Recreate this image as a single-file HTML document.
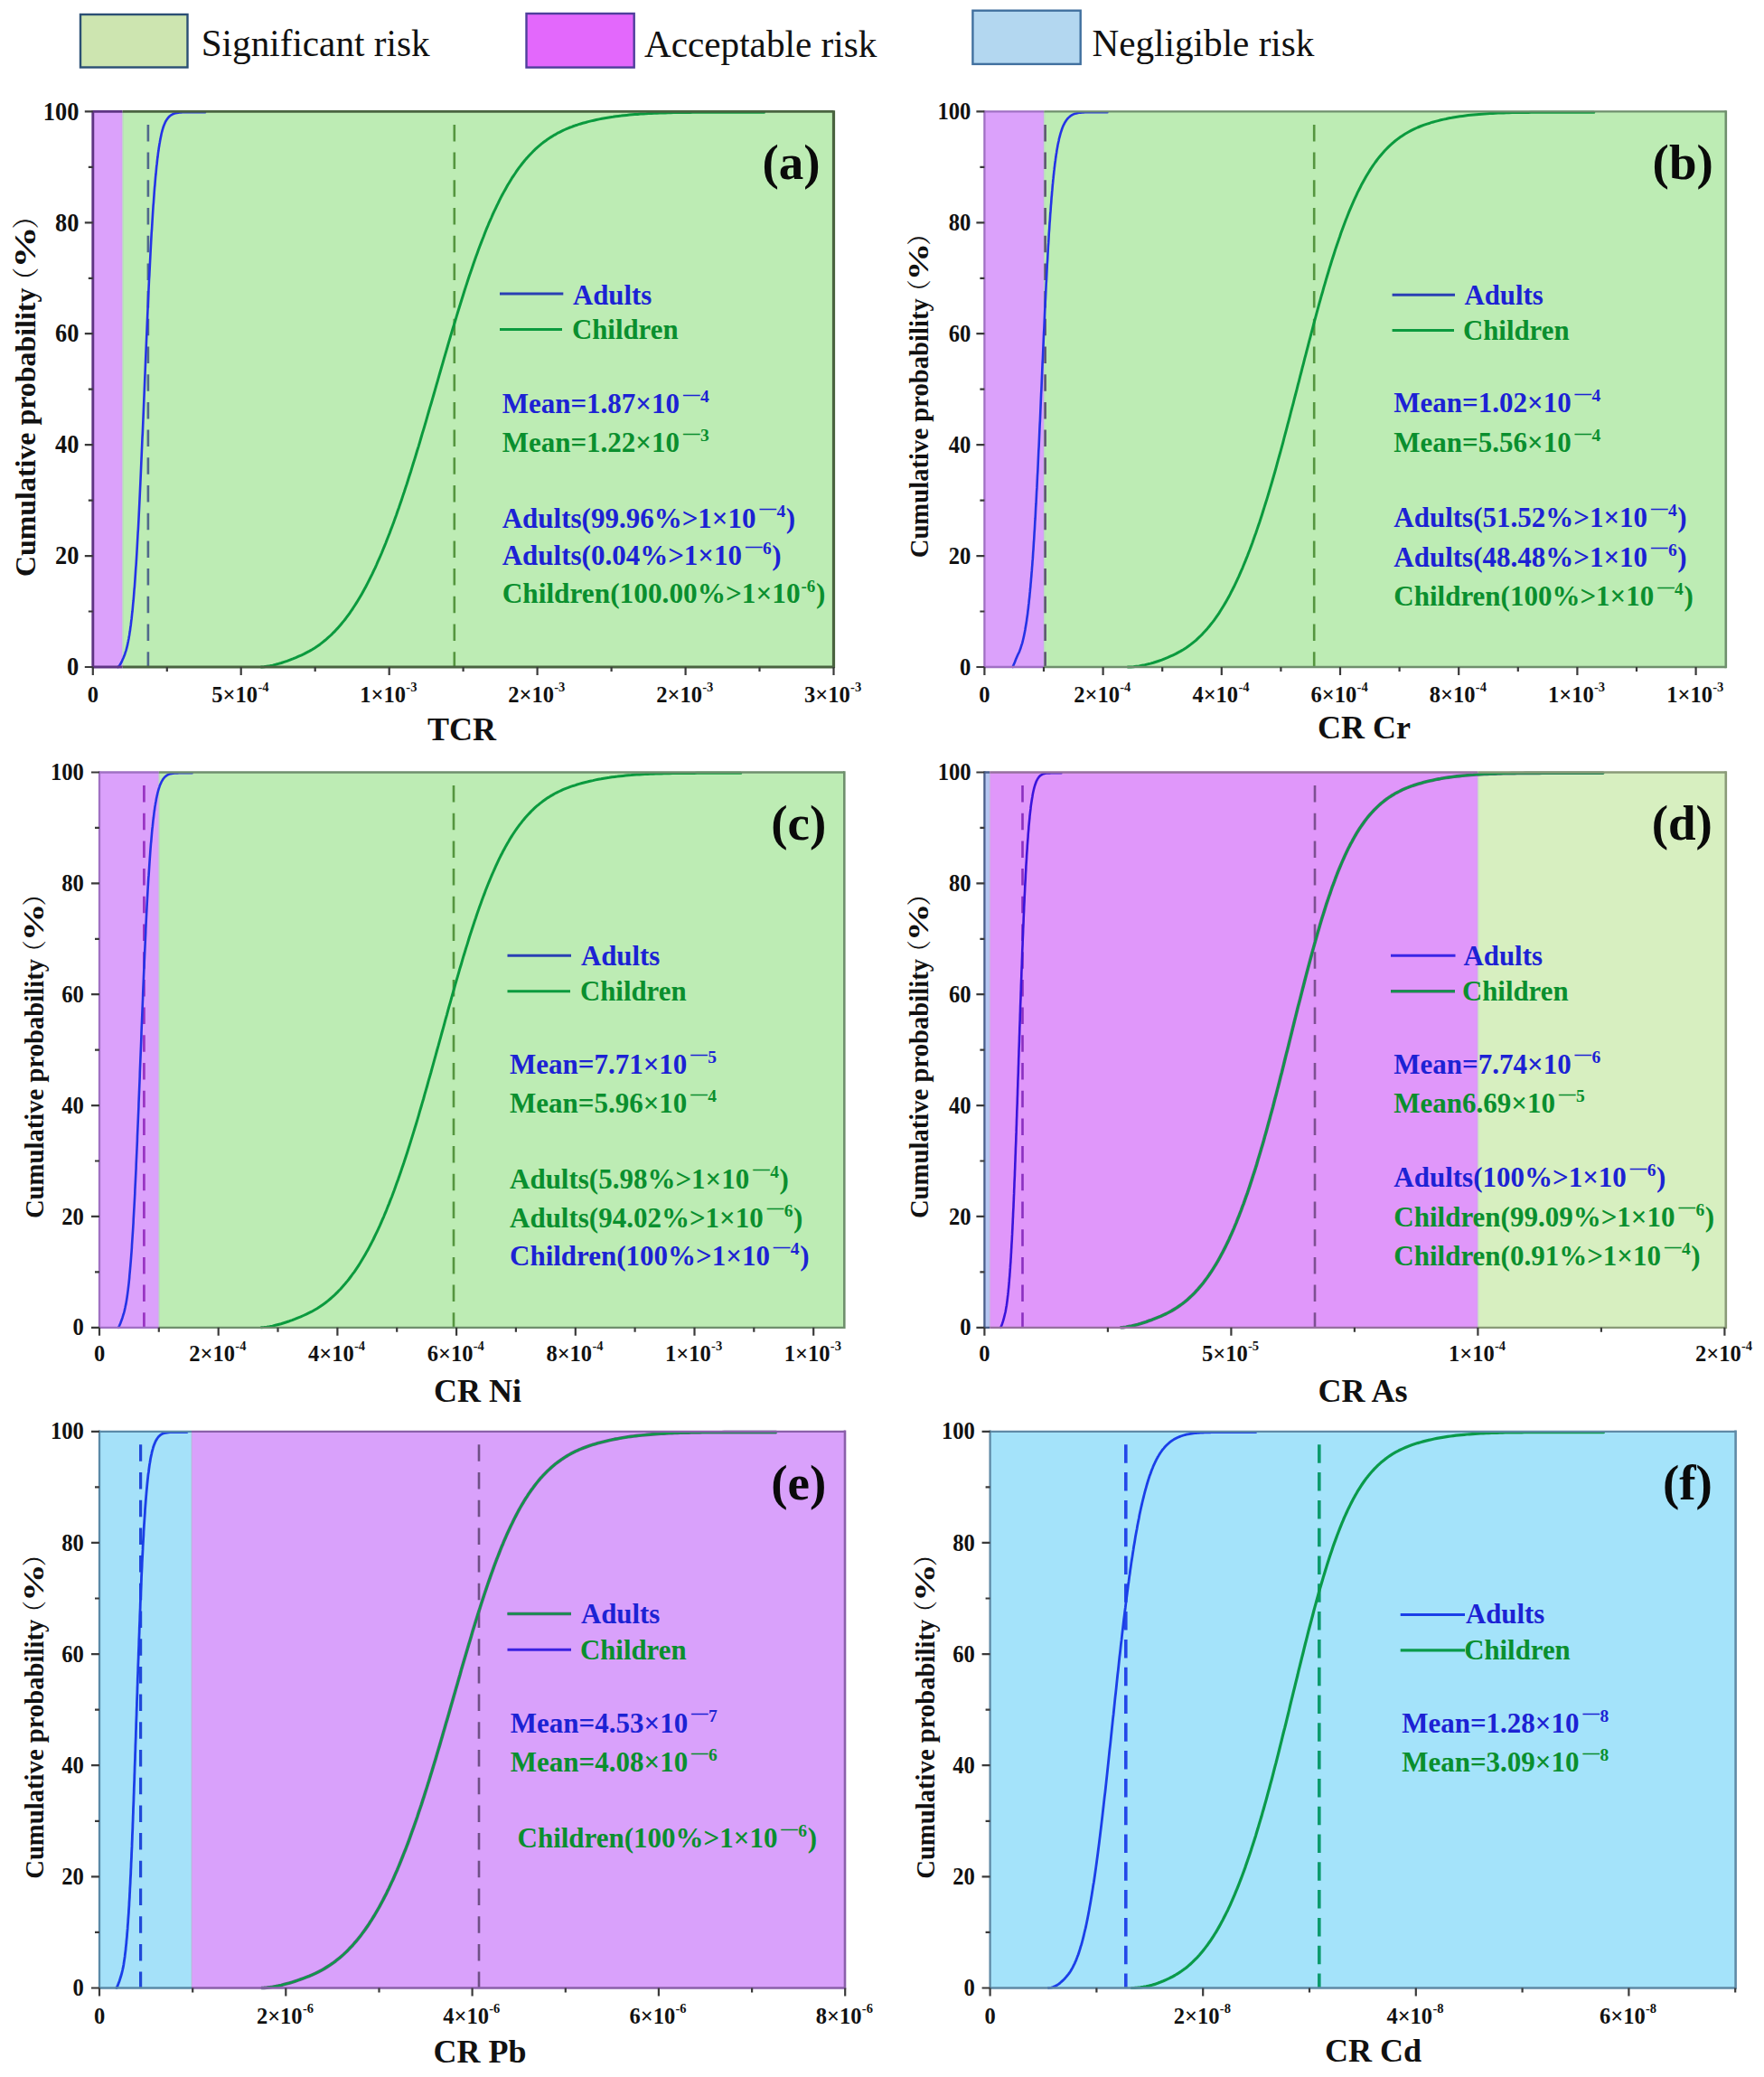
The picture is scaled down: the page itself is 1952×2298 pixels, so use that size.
<!DOCTYPE html>
<html lang="en">
<head>
<meta charset="utf-8">
<title>Cumulative probability of carcinogenic risk</title>
<style>
html,body{margin:0;padding:0;background:#fff;}
body{width:1952px;height:2298px;overflow:hidden;font-family:"Liberation Serif","Noto Serif CJK SC",serif;}
svg{display:block;}
svg text{white-space:pre;}
</style>
</head>
<body>
<svg xmlns="http://www.w3.org/2000/svg" width="1952" height="2298" viewBox="0 0 1952 2298" font-family="'Liberation Serif',serif" font-weight="bold">
<rect width="1952" height="2298" fill="#ffffff"/>
<rect x="89" y="16" width="118.5" height="58.5" fill="#cde5b0" stroke="#2b4f74" stroke-width="2.4"/>
<text x="222.7" y="62" font-size="41.2" font-weight="normal" fill="#111">Significant risk</text>
<rect x="582.5" y="15" width="119.2" height="59.6" fill="#e368fc" stroke="#4f3f9c" stroke-width="2.4"/>
<text x="713" y="62.9" font-size="41.2" font-weight="normal" fill="#111">Acceptable risk</text>
<rect x="1076.4" y="11.7" width="119.3" height="59.2" fill="#b3d7f0" stroke="#41709f" stroke-width="2.4"/>
<text x="1208.5" y="61.8" font-size="41.2" font-weight="normal" fill="#111">Negligible risk</text>
<g>
<rect x="102.8" y="123.4" width="32.8" height="614.6" fill="#dba1fb"/>
<rect x="135.6" y="123.4" width="786.9" height="614.6" fill="#bdecb4"/>
<rect x="134.6" y="123.4" width="2" height="614.6" fill="#b0b8c8" opacity="0.35"/>
<line x1="163.9" y1="137.9" x2="163.9" y2="738" stroke="#50688c" stroke-width="2.6" stroke-dasharray="18.5 12.2"/>
<line x1="502.8" y1="137.9" x2="502.8" y2="738" stroke="#55963f" stroke-width="2.6" stroke-dasharray="18.5 12.2"/>
<path d="M130.5,738 132,736.6 133.5,734.3 135,731.3 136.5,727.9 138.1,724 138.5,722.7 139,721.2 139.5,719.6 140,717.8 140.5,715.9 141,713.9 141.4,711.8 141.9,709.5 142.1,708.3 142.4,707 142.6,705.7 142.8,704.4 143.1,703 143.3,701.6 143.5,700.1 143.8,698.6 144,697 144.2,695.4 144.4,693.7 144.7,692 144.9,690.2 145.1,688.4 145.3,686.6 145.6,684.7 145.8,682.7 146,680.7 146.2,678.6 146.5,676.5 146.7,674.3 146.9,672 147.1,669.7 147.3,667.4 147.6,665 147.8,662.5 148,660 148.2,657.4 148.4,654.7 148.6,652 148.9,649.3 149.1,646.4 149.3,643.6 149.5,640.6 149.7,637.6 149.9,634.6 150.1,631.4 150.3,628.3 150.6,625 150.8,621.7 151,618.4 151.2,615 151.4,611.5 151.6,608 151.8,604.4 152,600.7 152.2,597 152.4,593.3 152.6,589.5 152.9,585.6 153.1,581.7 153.3,577.7 153.5,573.7 153.7,569.7 153.9,565.5 154.1,561.4 154.3,557.2 154.5,552.9 154.7,548.6 154.9,544.3 155.1,539.9 155.3,535.5 155.5,531 155.7,526.5 155.9,522 156.1,517.4 156.3,512.8 156.5,508.1 156.7,503.5 156.9,498.8 157.1,494.1 157.3,489.3 157.5,484.5 157.8,479.7 158,474.9 158.2,470.1 158.4,465.3 158.6,460.4 158.8,455.5 159,450.7 159.2,445.8 159.4,440.9 159.6,436 159.8,431.1 160,426.2 160.2,421.3 160.4,416.4 160.6,411.5 160.8,406.7 161,401.8 161.2,396.9 161.4,392.1 161.6,387.3 161.8,382.5 162,377.7 162.2,372.9 162.4,368.1 162.6,363.4 162.8,358.7 163,354.1 163.2,349.4 163.4,344.8 163.6,340.2 163.8,335.7 164,331.2 164.2,326.7 164.4,322.3 164.6,317.9 164.8,313.6 165,309.3 165.3,305 165.5,300.8 165.7,296.7 165.9,292.5 166.1,288.5 166.3,284.5 166.5,280.5 166.7,276.6 166.9,272.7 167.1,268.9 167.3,265.2 167.5,261.5 167.7,257.8 168,254.2 168.2,250.7 168.4,247.2 168.6,243.8 168.8,240.5 169,237.2 169.2,233.9 169.4,230.8 169.6,227.6 169.9,224.6 170.1,221.6 170.3,218.6 170.5,215.8 170.7,212.9 170.9,210.2 171.1,207.5 171.4,204.8 171.6,202.2 171.8,199.7 172,197.2 172.2,194.8 172.5,192.5 172.7,190.2 172.9,187.9 173.1,185.7 173.3,183.6 173.6,181.5 173.8,179.5 174,177.5 174.2,175.6 174.5,173.8 174.7,172 174.9,170.2 175.1,168.5 175.4,166.8 175.6,165.2 175.8,163.6 176.1,162.1 176.3,160.6 176.5,159.2 176.8,157.8 177,156.5 177.2,155.2 177.5,153.9 177.7,152.7 178.2,150.4 178.6,148.3 179.1,146.3 179.6,144.4 180.1,142.6 180.6,141 181.1,139.5 181.6,138.2 183.1,134.7 184.7,132.1 186.3,130 187.8,128.5 189.4,127.3 191,126.4 192.5,125.7 194.1,125.3 195.7,124.9 197.2,124.7 198.8,124.5 200.4,124.4 201.9,124.3 203.5,124.3 205.1,124.2 206.6,124.2 208.2,124.2 209.8,124.2 211.3,124.2 212.9,124.2 214.5,124.2 216,124.2 217.6,124.2 219.2,124.2 220.7,124.2 222.3,124.2 223.9,124.2 225.4,124.2 227,124.2" fill="none" stroke="#2433e6" stroke-width="2.6" stroke-linejoin="round" stroke-linecap="round"/>
<path d="M289,738 292.2,737.8 295.4,737.3 298.6,736.8 301.8,736.1 305,735.3 308.1,734.4 311.3,733.5 314.5,732.4 317.7,731.3 320.9,730.1 324.1,728.9 327.3,727.6 330.5,726.2 333.7,724.8 336.7,723.4 339.5,721.9 342.4,720.4 345.3,718.7 348.2,716.9 351.1,715 354.1,712.9 357,710.6 359.9,708.3 362.9,705.7 365.9,703 367.4,701.6 368.8,700.1 370.3,698.6 371.8,697 373.3,695.4 374.8,693.7 376.3,692 377.8,690.2 379.3,688.4 380.8,686.6 382.3,684.7 383.8,682.7 385.3,680.7 386.8,678.6 388.2,676.5 389.7,674.3 391.2,672 392.7,669.7 394.2,667.4 395.7,665 397.2,662.5 398.7,660 400.2,657.4 401.7,654.7 403.2,652 404.7,649.3 406.2,646.4 407.6,643.6 409.1,640.6 410.6,637.6 412.1,634.6 413.6,631.4 415.1,628.3 416.6,625 418,621.7 419.5,618.4 421,615 422.5,611.5 423.9,608 425.4,604.4 426.9,600.7 428.3,597 429.8,593.3 431.3,589.5 432.7,585.6 434.2,581.7 435.7,577.7 437.1,573.7 438.6,569.7 440,565.5 441.5,561.4 442.9,557.2 444.4,552.9 445.8,548.6 447.3,544.3 448.7,539.9 450.2,535.5 451.6,531 453,526.5 454.5,522 455.9,517.4 457.3,512.8 458.8,508.1 460.2,503.5 461.6,498.8 463.1,494.1 464.5,489.3 465.9,484.5 467.3,479.7 468.8,474.9 470.2,470.1 471.6,465.3 473,460.4 474.4,455.5 475.8,450.7 477.3,445.8 478.7,440.9 480.1,436 481.5,431.1 482.9,426.2 484.3,421.3 485.7,416.4 487.1,411.5 488.5,406.7 489.9,401.8 491.3,396.9 492.7,392.1 494.1,387.3 495.5,382.5 496.9,377.7 498.3,372.9 499.7,368.1 501.1,363.4 502.6,358.7 504,354.1 505.4,349.4 506.8,344.8 508.2,340.2 509.6,335.7 511,331.2 512.4,326.7 513.8,322.3 515.2,317.9 516.6,313.6 518,309.3 519.4,305 520.9,300.8 522.3,296.7 523.7,292.5 525.1,288.5 526.5,284.5 528,280.5 529.4,276.6 530.8,272.7 532.3,268.9 533.7,265.2 535.2,261.5 536.6,257.8 538,254.2 539.5,250.7 540.9,247.2 542.4,243.8 543.9,240.5 545.3,237.2 546.8,233.9 548.3,230.8 549.8,227.6 551.3,224.6 552.7,221.6 554.2,218.6 555.7,215.8 557.3,212.9 558.8,210.2 560.3,207.5 561.8,204.8 563.4,202.2 564.9,199.7 566.4,197.2 568,194.8 569.6,192.5 571.1,190.2 572.7,187.9 574.3,185.7 575.9,183.6 577.5,181.5 579.1,179.5 580.7,177.5 582.3,175.6 584,173.8 585.6,172 587.3,170.2 589,168.5 590.6,166.8 592.3,165.2 594,163.6 595.7,162.1 597.5,160.6 599.2,159.2 600.9,157.8 602.7,156.5 604.5,155.2 606.2,153.9 608,152.7 609.8,151.6 611.7,150.4 613.5,149.3 615.4,148.3 617.2,147.2 619.1,146.3 621,145.3 622.9,144.4 624.8,143.5 626.8,142.6 628.7,141.8 630.7,141 632.7,140.3 634.7,139.5 636.7,138.8 638.8,138.2 641.8,137.2 644.8,136.3 647.9,135.5 650.9,134.6 654,133.9 657,133.2 660,132.5 663.1,131.9 666.1,131.3 669.2,130.7 672.2,130.2 675.2,129.7 678.3,129.3 681.3,128.8 684.4,128.4 687.4,128.1 690.4,127.7 693.5,127.4 696.5,127.1 699.6,126.8 702.6,126.6 705.6,126.4 708.7,126.1 711.7,125.9 714.8,125.8 717.8,125.6 720.8,125.4 723.9,125.3 726.9,125.2 730,125.1 733,125 736.1,124.9 739.1,124.8 742.1,124.7 745.2,124.6 748.2,124.6 751.3,124.5 754.3,124.5 757.3,124.4 760.4,124.4 763.4,124.4 766.5,124.3 769.5,124.3 772.5,124.3 775.6,124.3 778.6,124.3 781.7,124.3 784.7,124.2 787.7,124.2 790.8,124.2 793.8,124.2 796.9,124.2 799.9,124.2 802.9,124.2 806,124.2 809,124.2 812.1,124.2 815.1,124.2 818.1,124.2 821.2,124.2 824.2,124.2 827.3,124.2 830.3,124.2 833.3,124.2 836.4,124.2 839.4,124.2 842.5,124.2 845.5,124.2" fill="none" stroke="#0b9a3e" stroke-width="3" stroke-linejoin="round" stroke-linecap="round"/>
<path d="M102.8,123.4 H135.6 M102.8,738 H135.6" stroke="#5f3484" stroke-width="2.9" fill="none"/>
<path d="M135.6,123.4 H922.5 M135.6,738 H922.5" stroke="#4a6340" stroke-width="2.9" fill="none"/>
<line x1="102.8" y1="122.2" x2="102.8" y2="739.2" stroke="#5f3484" stroke-width="2.9"/>
<line x1="922.5" y1="122.2" x2="922.5" y2="739.2" stroke="#4a6340" stroke-width="3.1999999999999997"/>
<path d="M102.8,738 h-9 M102.8,676.5 h-5 M102.8,615.1 h-9 M102.8,553.6 h-5 M102.8,492.2 h-9 M102.8,430.7 h-5 M102.8,369.2 h-9 M102.8,307.8 h-5 M102.8,246.3 h-9 M102.8,184.9 h-5 M102.8,123.4 h-9 M102.8,738 v9 M266.7,738 v9 M430.7,738 v9 M594.6,738 v9 M758.6,738 v9 M922.5,738 v9 M184.8,738 v5 M348.7,738 v5 M512.6,738 v5 M676.6,738 v5 M840.5,738 v5" stroke="#3a3a3a" stroke-width="2.2" fill="none"/>
<text x="87.3" y="747.2" font-size="29.4" text-anchor="end" fill="#111" textLength="13.2" lengthAdjust="spacingAndGlyphs">0</text>
<text x="87.3" y="624.3" font-size="29.4" text-anchor="end" fill="#111" textLength="26.3" lengthAdjust="spacingAndGlyphs">20</text>
<text x="87.3" y="501.4" font-size="29.4" text-anchor="end" fill="#111" textLength="26.3" lengthAdjust="spacingAndGlyphs">40</text>
<text x="87.3" y="378.4" font-size="29.4" text-anchor="end" fill="#111" textLength="26.3" lengthAdjust="spacingAndGlyphs">60</text>
<text x="87.3" y="255.5" font-size="29.4" text-anchor="end" fill="#111" textLength="26.3" lengthAdjust="spacingAndGlyphs">80</text>
<text x="87.3" y="132.6" font-size="29.4" text-anchor="end" fill="#111" textLength="39.5" lengthAdjust="spacingAndGlyphs">100</text>
<text x="102.8" y="777" font-size="24.5" text-anchor="middle" fill="#111">0</text>
<text x="234.3" y="777" font-size="24.5" fill="#111">5×10</text>
<text x="285.4" y="765" font-size="14.5" fill="#111">-4</text>
<text x="398.3" y="777" font-size="24.5" fill="#111">1×10</text>
<text x="449.3" y="765" font-size="14.5" fill="#111">-3</text>
<text x="562.2" y="777" font-size="24.5" fill="#111">2×10</text>
<text x="613.2" y="765" font-size="14.5" fill="#111">-3</text>
<text x="726.2" y="777" font-size="24.5" fill="#111">2×10</text>
<text x="777.2" y="765" font-size="14.5" fill="#111">-3</text>
<text x="890.1" y="777" font-size="24.5" fill="#111">3×10</text>
<text x="941.1" y="765" font-size="14.5" fill="#111">-3</text>
<text x="511" y="818.5" font-size="36" text-anchor="middle" fill="#111">TCR</text>
<g transform="translate(38.8,638) rotate(-90) scale(1.112)" fill="#111">
<text x="0" y="0" font-size="28.7">Cumulative probability</text>
<text x="308" y="0" text-anchor="end" font-family="'Noto Serif CJK SC','Liberation Serif',serif" font-weight="normal" font-size="27">（</text>
<text x="306.8" y="0" font-size="31" textLength="42" lengthAdjust="spacingAndGlyphs">%</text>
<text x="345.5" y="0" font-family="'Noto Serif CJK SC','Liberation Serif',serif" font-weight="normal" font-size="27">）</text>
</g>
<text x="843.5" y="198.4" font-size="55" fill="#0a0a0a">(a)</text>
<line x1="553" y1="325" x2="623.3" y2="325" stroke="#2a3fb4" stroke-width="3"/>
<line x1="553" y1="364.5" x2="622" y2="364.5" stroke="#0b9a3e" stroke-width="3"/>
<text x="634" y="336.7" font-size="30.8" fill="#1c22d4">Adults</text>
<text x="633" y="375.2" font-size="30.8" fill="#0a8f2e">Children</text>
<text x="555.7" y="457.4" font-size="31" fill="#1c22d4">Mean=1.87×10</text>
<text x="753.7" y="443.9" font-size="19.5" fill="#1c22d4" textLength="23" lengthAdjust="spacingAndGlyphs">−</text>
<text x="774.9" y="445.4" font-size="19.5" fill="#1c22d4">4</text>
<text x="555.7" y="500" font-size="31" fill="#0a8f2e">Mean=1.22×10</text>
<text x="753.7" y="486.5" font-size="19.5" fill="#0a8f2e" textLength="23" lengthAdjust="spacingAndGlyphs">−</text>
<text x="774.9" y="488" font-size="19.5" fill="#0a8f2e">3</text>
<text x="555.7" y="583.6" font-size="31" fill="#1c22d4">Adults(99.96%&gt;1×10</text>
<text x="838.2" y="570.1" font-size="19.5" fill="#1c22d4" textLength="23" lengthAdjust="spacingAndGlyphs">−</text>
<text x="859.4" y="571.6" font-size="19.5" fill="#1c22d4">4</text>
<text x="869.7" y="583.6" font-size="31" fill="#1c22d4">)</text>
<text x="555.7" y="625" font-size="31" fill="#1c22d4">Adults(0.04%&gt;1×10</text>
<text x="822.7" y="611.5" font-size="19.5" fill="#1c22d4" textLength="23" lengthAdjust="spacingAndGlyphs">−</text>
<text x="843.9" y="613" font-size="19.5" fill="#1c22d4">6</text>
<text x="854.2" y="625" font-size="31" fill="#1c22d4">)</text>
<text x="555.7" y="667" font-size="31" fill="#0a8f2e" textLength="330" lengthAdjust="spacingAndGlyphs">Children(100.00%&gt;1×10</text>
<text x="886.5" y="654.5" font-size="19" fill="#0a8f2e">-6</text>
<text x="903.1" y="667" font-size="31" fill="#0a8f2e">)</text>
</g>
<g>
<rect x="1089.4" y="123.4" width="65.9" height="614.6" fill="#dba1fb"/>
<rect x="1155.3" y="123.4" width="754.5" height="614.6" fill="#bdecb4"/>
<rect x="1154.3" y="123.4" width="2" height="614.6" fill="#b0b8c8" opacity="0.35"/>
<line x1="1156.6" y1="137.9" x2="1156.6" y2="738" stroke="#5d5570" stroke-width="2.6" stroke-dasharray="18.5 12.2"/>
<line x1="1454.2" y1="137.9" x2="1454.2" y2="738" stroke="#55963f" stroke-width="2.6" stroke-dasharray="18.5 12.2"/>
<path d="M1120.6,738 1121.8,735.2 1123,732.4 1124.1,729.6 1125.3,726.8 1126.5,724 1127.2,722.7 1127.9,721.2 1128.5,719.6 1129.2,717.8 1129.8,715.9 1130.4,713.9 1131.1,711.8 1131.7,709.5 1132,708.3 1132.3,707 1132.6,705.7 1132.9,704.4 1133.2,703 1133.5,701.6 1133.8,700.1 1134.1,698.6 1134.4,697 1134.6,695.4 1134.9,693.7 1135.2,692 1135.5,690.2 1135.8,688.4 1136.1,686.6 1136.3,684.7 1136.6,682.7 1136.9,680.7 1137.2,678.6 1137.4,676.5 1137.7,674.3 1138,672 1138.2,669.7 1138.5,667.4 1138.7,665 1139,662.5 1139.3,660 1139.5,657.4 1139.8,654.7 1140,652 1140.3,649.3 1140.5,646.4 1140.8,643.6 1141,640.6 1141.3,637.6 1141.5,634.6 1141.8,631.4 1142,628.3 1142.3,625 1142.5,621.7 1142.8,618.4 1143,615 1143.2,611.5 1143.5,608 1143.7,604.4 1143.9,600.7 1144.2,597 1144.4,593.3 1144.6,589.5 1144.9,585.6 1145.1,581.7 1145.3,577.7 1145.6,573.7 1145.8,569.7 1146,565.5 1146.2,561.4 1146.5,557.2 1146.7,552.9 1146.9,548.6 1147.1,544.3 1147.4,539.9 1147.6,535.5 1147.8,531 1148,526.5 1148.3,522 1148.5,517.4 1148.7,512.8 1148.9,508.1 1149.1,503.5 1149.3,498.8 1149.6,494.1 1149.8,489.3 1150,484.5 1150.2,479.7 1150.4,474.9 1150.6,470.1 1150.9,465.3 1151.1,460.4 1151.3,455.5 1151.5,450.7 1151.7,445.8 1151.9,440.9 1152.1,436 1152.4,431.1 1152.6,426.2 1152.8,421.3 1153,416.4 1153.2,411.5 1153.4,406.7 1153.6,401.8 1153.9,396.9 1154.1,392.1 1154.3,387.3 1154.5,382.5 1154.7,377.7 1154.9,372.9 1155.1,368.1 1155.4,363.4 1155.6,358.7 1155.8,354.1 1156,349.4 1156.2,344.8 1156.4,340.2 1156.6,335.7 1156.9,331.2 1157.1,326.7 1157.3,322.3 1157.5,317.9 1157.7,313.6 1158,309.3 1158.2,305 1158.4,300.8 1158.6,296.7 1158.8,292.5 1159.1,288.5 1159.3,284.5 1159.5,280.5 1159.7,276.6 1159.9,272.7 1160.2,268.9 1160.4,265.2 1160.6,261.5 1160.8,257.8 1161.1,254.2 1161.3,250.7 1161.5,247.2 1161.8,243.8 1162,240.5 1162.2,237.2 1162.5,233.9 1162.7,230.8 1162.9,227.6 1163.2,224.6 1163.4,221.6 1163.6,218.6 1163.9,215.8 1164.1,212.9 1164.4,210.2 1164.6,207.5 1164.8,204.8 1165.1,202.2 1165.3,199.7 1165.6,197.2 1165.8,194.8 1166.1,192.5 1166.3,190.2 1166.6,187.9 1166.8,185.7 1167.1,183.6 1167.3,181.5 1167.6,179.5 1167.9,177.5 1168.1,175.6 1168.4,173.8 1168.6,172 1168.9,170.2 1169.2,168.5 1169.4,166.8 1169.7,165.2 1170,163.6 1170.3,162.1 1170.5,160.6 1170.8,159.2 1171.1,157.8 1171.4,156.5 1171.7,155.2 1171.9,153.9 1172.2,152.7 1172.5,151.6 1173.1,149.3 1173.7,147.2 1174.3,145.3 1174.9,143.5 1175.5,141.8 1176.1,140.3 1176.7,138.8 1178.6,135.2 1180.2,132.8 1181.7,130.9 1183.3,129.4 1184.9,128.1 1186.4,127.2 1188,126.4 1189.5,125.8 1191.1,125.4 1192.7,125 1194.2,124.8 1195.8,124.6 1197.3,124.5 1198.9,124.4 1200.5,124.3 1202,124.3 1203.6,124.2 1205.1,124.2 1206.7,124.2 1208.2,124.2 1209.8,124.2 1211.4,124.2 1212.9,124.2 1214.5,124.2 1216,124.2 1217.6,124.2 1219.2,124.2 1220.7,124.2 1222.3,124.2 1223.8,124.2 1225.4,124.2" fill="none" stroke="#2433e6" stroke-width="2.6" stroke-linejoin="round" stroke-linecap="round"/>
<path d="M1248,738 1251.1,737.9 1254.3,737.7 1257.4,737.3 1260.5,736.9 1263.7,736.3 1266.8,735.7 1269.9,734.9 1273.1,734.1 1276.2,733.2 1279.3,732.2 1282.4,731.2 1285.6,730.1 1288.7,728.8 1291.8,727.6 1295,726.2 1298.1,724.8 1301.1,723.4 1303.8,721.9 1306.6,720.4 1309.4,718.7 1312.2,716.9 1315,715 1317.8,712.9 1320.7,710.6 1323.5,708.3 1326.3,705.7 1329.1,703 1330.5,701.6 1331.9,700.1 1333.3,698.6 1334.7,697 1336.1,695.4 1337.5,693.7 1338.9,692 1340.3,690.2 1341.8,688.4 1343.2,686.6 1344.6,684.7 1346,682.7 1347.4,680.7 1348.8,678.6 1350.1,676.5 1351.5,674.3 1352.9,672 1354.3,669.7 1355.7,667.4 1357.1,665 1358.5,662.5 1359.9,660 1361.3,657.4 1362.6,654.7 1364,652 1365.4,649.3 1366.8,646.4 1368.1,643.6 1369.5,640.6 1370.9,637.6 1372.2,634.6 1373.6,631.4 1375,628.3 1376.3,625 1377.7,621.7 1379,618.4 1380.4,615 1381.7,611.5 1383.1,608 1384.4,604.4 1385.8,600.7 1387.1,597 1388.4,593.3 1389.8,589.5 1391.1,585.6 1392.4,581.7 1393.8,577.7 1395.1,573.7 1396.4,569.7 1397.7,565.5 1399,561.4 1400.3,557.2 1401.7,552.9 1403,548.6 1404.3,544.3 1405.6,539.9 1406.9,535.5 1408.2,531 1409.5,526.5 1410.8,522 1412.1,517.4 1413.3,512.8 1414.6,508.1 1415.9,503.5 1417.2,498.8 1418.5,494.1 1419.8,489.3 1421,484.5 1422.3,479.7 1423.6,474.9 1424.8,470.1 1426.1,465.3 1427.4,460.4 1428.6,455.5 1429.9,450.7 1431.2,445.8 1432.4,440.9 1433.7,436 1435,431.1 1436.2,426.2 1437.5,421.3 1438.7,416.4 1440,411.5 1441.2,406.7 1442.5,401.8 1443.7,396.9 1445,392.1 1446.2,387.3 1447.5,382.5 1448.7,377.7 1450,372.9 1451.2,368.1 1452.5,363.4 1453.7,358.7 1454.9,354.1 1456.2,349.4 1457.4,344.8 1458.7,340.2 1459.9,335.7 1461.2,331.2 1462.4,326.7 1463.7,322.3 1464.9,317.9 1466.2,313.6 1467.4,309.3 1468.7,305 1470,300.8 1471.2,296.7 1472.5,292.5 1473.7,288.5 1475,284.5 1476.3,280.5 1477.5,276.6 1478.8,272.7 1480.1,268.9 1481.4,265.2 1482.7,261.5 1483.9,257.8 1485.2,254.2 1486.5,250.7 1487.8,247.2 1489.1,243.8 1490.4,240.5 1491.7,237.2 1493,233.9 1494.3,230.8 1495.7,227.6 1497,224.6 1498.3,221.6 1499.7,218.6 1501,215.8 1502.3,212.9 1503.7,210.2 1505.1,207.5 1506.4,204.8 1507.8,202.2 1509.2,199.7 1510.6,197.2 1512,194.8 1513.4,192.5 1514.8,190.2 1516.2,187.9 1517.6,185.7 1519,183.6 1520.5,181.5 1521.9,179.5 1523.4,177.5 1524.8,175.6 1526.3,173.8 1527.8,172 1529.3,170.2 1530.8,168.5 1532.3,166.8 1533.8,165.2 1535.4,163.6 1536.9,162.1 1538.5,160.6 1540.1,159.2 1541.6,157.8 1543.2,156.5 1544.8,155.2 1546.5,153.9 1548.1,152.7 1549.7,151.6 1551.4,150.4 1554.7,148.3 1558.2,146.3 1561.6,144.4 1565.2,142.6 1568.8,141 1572.4,139.5 1576.1,138.2 1579.2,137.1 1582.2,136.2 1585.2,135.2 1588.3,134.4 1591.3,133.6 1594.3,132.8 1597.3,132.1 1600.4,131.5 1603.4,130.8 1606.4,130.3 1609.4,129.7 1612.5,129.2 1615.5,128.8 1618.5,128.4 1621.5,128 1624.6,127.6 1627.6,127.3 1630.6,127 1633.7,126.7 1636.7,126.4 1639.7,126.2 1642.7,126 1645.8,125.8 1648.8,125.6 1651.8,125.4 1654.8,125.3 1657.9,125.1 1660.9,125 1663.9,124.9 1666.9,124.8 1670,124.7 1673,124.6 1676,124.6 1679.1,124.5 1682.1,124.5 1685.1,124.4 1688.1,124.4 1691.2,124.4 1694.2,124.3 1697.2,124.3 1700.2,124.3 1703.3,124.3 1706.3,124.3 1709.3,124.2 1712.3,124.2 1715.4,124.2 1718.4,124.2 1721.4,124.2 1724.5,124.2 1727.5,124.2 1730.5,124.2 1733.5,124.2 1736.6,124.2 1739.6,124.2 1742.6,124.2 1745.6,124.2 1748.7,124.2 1751.7,124.2 1754.7,124.2 1757.7,124.2 1760.8,124.2 1763.8,124.2" fill="none" stroke="#0b9a3e" stroke-width="3" stroke-linejoin="round" stroke-linecap="round"/>
<path d="M1089.4,123.4 H1155.3 M1089.4,738 H1155.3" stroke="#a070c4" stroke-width="2.3" fill="none"/>
<path d="M1155.3,123.4 H1909.8 M1155.3,738 H1909.8" stroke="#6f8f6d" stroke-width="2.3" fill="none"/>
<line x1="1089.4" y1="122.2" x2="1089.4" y2="739.2" stroke="#a070c4" stroke-width="2.3"/>
<line x1="1909.8" y1="122.2" x2="1909.8" y2="739.2" stroke="#6f8f6d" stroke-width="2.5999999999999996"/>
<path d="M1089.4,738 h-9 M1089.4,676.5 h-5 M1089.4,615.1 h-9 M1089.4,553.6 h-5 M1089.4,492.2 h-9 M1089.4,430.7 h-5 M1089.4,369.2 h-9 M1089.4,307.8 h-5 M1089.4,246.3 h-9 M1089.4,184.9 h-5 M1089.4,123.4 h-9 M1089.4,738 v9 M1220.6,738 v9 M1351.8,738 v9 M1483,738 v9 M1614.2,738 v9 M1745.4,738 v9 M1876.6,738 v9 M1155,738 v5 M1286.2,738 v5 M1417.4,738 v5 M1548.6,738 v5 M1679.8,738 v5 M1811,738 v5" stroke="#3a3a3a" stroke-width="2.2" fill="none"/>
<text x="1074.3" y="746.6" font-size="27.5" text-anchor="end" fill="#111" textLength="12.3" lengthAdjust="spacingAndGlyphs">0</text>
<text x="1074.3" y="623.7" font-size="27.5" text-anchor="end" fill="#111" textLength="24.6" lengthAdjust="spacingAndGlyphs">20</text>
<text x="1074.3" y="500.8" font-size="27.5" text-anchor="end" fill="#111" textLength="24.6" lengthAdjust="spacingAndGlyphs">40</text>
<text x="1074.3" y="377.8" font-size="27.5" text-anchor="end" fill="#111" textLength="24.6" lengthAdjust="spacingAndGlyphs">60</text>
<text x="1074.3" y="254.9" font-size="27.5" text-anchor="end" fill="#111" textLength="24.6" lengthAdjust="spacingAndGlyphs">80</text>
<text x="1074.3" y="132" font-size="27.5" text-anchor="end" fill="#111" textLength="36.9" lengthAdjust="spacingAndGlyphs">100</text>
<text x="1089.4" y="777" font-size="24.5" text-anchor="middle" fill="#111">0</text>
<text x="1188.2" y="777" font-size="24.5" fill="#111">2×10</text>
<text x="1239.2" y="765" font-size="14.5" fill="#111">-4</text>
<text x="1319.4" y="777" font-size="24.5" fill="#111">4×10</text>
<text x="1370.4" y="765" font-size="14.5" fill="#111">-4</text>
<text x="1450.6" y="777" font-size="24.5" fill="#111">6×10</text>
<text x="1501.6" y="765" font-size="14.5" fill="#111">-4</text>
<text x="1581.8" y="777" font-size="24.5" fill="#111">8×10</text>
<text x="1632.8" y="765" font-size="14.5" fill="#111">-4</text>
<text x="1713" y="777" font-size="24.5" fill="#111">1×10</text>
<text x="1764" y="765" font-size="14.5" fill="#111">-3</text>
<text x="1844.2" y="777" font-size="24.5" fill="#111">1×10</text>
<text x="1895.2" y="765" font-size="14.5" fill="#111">-3</text>
<text x="1509.4" y="816.5" font-size="36" text-anchor="middle" fill="#111">CR Cr</text>
<g transform="translate(1027.4,617.3) rotate(-90) scale(1.0)" fill="#111">
<text x="0" y="0" font-size="28.7">Cumulative probability</text>
<text x="308" y="0" text-anchor="end" font-family="'Noto Serif CJK SC','Liberation Serif',serif" font-weight="normal" font-size="27">（</text>
<text x="306.8" y="0" font-size="31" textLength="42" lengthAdjust="spacingAndGlyphs">%</text>
<text x="345.5" y="0" font-family="'Noto Serif CJK SC','Liberation Serif',serif" font-weight="normal" font-size="27">）</text>
</g>
<text x="1828.6" y="198" font-size="55" fill="#0a0a0a">(b)</text>
<line x1="1540.6" y1="326.2" x2="1610" y2="326.2" stroke="#2a3fb4" stroke-width="3"/>
<line x1="1540.6" y1="365.4" x2="1609" y2="365.4" stroke="#0b9a3e" stroke-width="3"/>
<text x="1620.5" y="336.7" font-size="30.8" fill="#1c22d4">Adults</text>
<text x="1619" y="376" font-size="30.8" fill="#0a8f2e">Children</text>
<text x="1542.3" y="456.4" font-size="31" fill="#1c22d4">Mean=1.02×10</text>
<text x="1740.3" y="442.9" font-size="19.5" fill="#1c22d4" textLength="23" lengthAdjust="spacingAndGlyphs">−</text>
<text x="1761.5" y="444.4" font-size="19.5" fill="#1c22d4">4</text>
<text x="1542.3" y="500" font-size="31" fill="#0a8f2e">Mean=5.56×10</text>
<text x="1740.3" y="486.5" font-size="19.5" fill="#0a8f2e" textLength="23" lengthAdjust="spacingAndGlyphs">−</text>
<text x="1761.5" y="488" font-size="19.5" fill="#0a8f2e">4</text>
<text x="1542.3" y="583.2" font-size="31" fill="#1c22d4">Adults(51.52%&gt;1×10</text>
<text x="1824.8" y="569.7" font-size="19.5" fill="#1c22d4" textLength="23" lengthAdjust="spacingAndGlyphs">−</text>
<text x="1846" y="571.2" font-size="19.5" fill="#1c22d4">4</text>
<text x="1856.3" y="583.2" font-size="31" fill="#1c22d4">)</text>
<text x="1542.3" y="626.8" font-size="31" fill="#1c22d4">Adults(48.48%&gt;1×10</text>
<text x="1824.8" y="613.3" font-size="19.5" fill="#1c22d4" textLength="23" lengthAdjust="spacingAndGlyphs">−</text>
<text x="1846" y="614.8" font-size="19.5" fill="#1c22d4">6</text>
<text x="1856.3" y="626.8" font-size="31" fill="#1c22d4">)</text>
<text x="1542.3" y="670.3" font-size="31" fill="#0a8f2e">Children(100%&gt;1×10</text>
<text x="1831.9" y="656.8" font-size="19.5" fill="#0a8f2e" textLength="23" lengthAdjust="spacingAndGlyphs">−</text>
<text x="1853.1" y="658.3" font-size="19.5" fill="#0a8f2e">4</text>
<text x="1863.5" y="670.3" font-size="31" fill="#0a8f2e">)</text>
</g>
<g>
<rect x="110" y="854.5" width="65.8" height="614.3" fill="#dba1fb"/>
<rect x="175.8" y="854.5" width="758.5" height="614.3" fill="#bdecb4"/>
<rect x="174.8" y="854.5" width="2" height="614.3" fill="#b0b8c8" opacity="0.35"/>
<line x1="159.4" y1="869" x2="159.4" y2="1468.8" stroke="#9a35c4" stroke-width="2.8" stroke-dasharray="18.5 12.2"/>
<line x1="502" y1="869" x2="502" y2="1468.8" stroke="#55963f" stroke-width="2.6" stroke-dasharray="18.5 12.2"/>
<path d="M131,1468.8 132.1,1466.8 133.2,1464.2 134.3,1461.3 135.4,1458.2 136.4,1454.8 136.9,1453.5 137.3,1452 137.7,1450.4 138.1,1448.6 138.5,1446.8 138.9,1444.7 139.4,1442.6 139.8,1440.3 140,1439.1 140.2,1437.8 140.4,1436.5 140.6,1435.2 140.8,1433.8 141,1432.4 141.2,1430.9 141.4,1429.4 141.6,1427.8 141.8,1426.2 142,1424.5 142.2,1422.8 142.4,1421.1 142.6,1419.3 142.8,1417.4 143,1415.5 143.2,1413.5 143.3,1411.5 143.5,1409.4 143.7,1407.3 143.9,1405.1 144.1,1402.9 144.3,1400.6 144.5,1398.2 144.7,1395.8 144.9,1393.3 145.1,1390.8 145.3,1388.2 145.5,1385.6 145.7,1382.9 145.9,1380.1 146,1377.3 146.2,1374.4 146.4,1371.5 146.6,1368.5 146.8,1365.4 147,1362.3 147.2,1359.1 147.4,1355.9 147.6,1352.6 147.7,1349.2 147.9,1345.8 148.1,1342.4 148.3,1338.8 148.5,1335.2 148.7,1331.6 148.9,1327.9 149.1,1324.2 149.3,1320.4 149.4,1316.5 149.6,1312.6 149.8,1308.6 150,1304.6 150.2,1300.5 150.4,1296.4 150.6,1292.3 150.7,1288.1 150.9,1283.8 151.1,1279.5 151.3,1275.2 151.5,1270.8 151.7,1266.4 151.9,1261.9 152,1257.4 152.2,1252.9 152.4,1248.3 152.6,1243.7 152.8,1239.1 153,1234.4 153.2,1229.7 153.4,1225 153.5,1220.2 153.7,1215.5 153.9,1210.7 154.1,1205.9 154.3,1201 154.5,1196.2 154.7,1191.3 154.8,1186.5 155,1181.6 155.2,1176.7 155.4,1171.8 155.6,1166.9 155.8,1162 156,1157.2 156.2,1152.3 156.4,1147.4 156.5,1142.5 156.7,1137.6 156.9,1132.8 157.1,1127.9 157.3,1123.1 157.5,1118.2 157.7,1113.4 157.9,1108.6 158.1,1103.9 158.2,1099.1 158.4,1094.4 158.6,1089.7 158.8,1085 159,1080.4 159.2,1075.8 159.4,1071.2 159.6,1066.7 159.8,1062.2 160,1057.7 160.2,1053.3 160.4,1048.9 160.6,1044.6 160.8,1040.3 161,1036 161.2,1031.8 161.3,1027.7 161.5,1023.6 161.7,1019.5 161.9,1015.5 162.1,1011.5 162.3,1007.6 162.5,1003.7 162.7,999.9 162.9,996.2 163.1,992.5 163.3,988.9 163.5,985.3 163.7,981.7 163.9,978.3 164.1,974.9 164.3,971.5 164.6,968.2 164.8,965 165,961.8 165.2,958.7 165.4,955.6 165.6,952.6 165.8,949.7 166,946.8 166.2,944 166.4,941.2 166.6,938.5 166.8,935.9 167,933.3 167.3,930.8 167.5,928.3 167.7,925.9 167.9,923.5 168.1,921.2 168.3,919 168.5,916.8 168.8,914.7 169,912.6 169.2,910.6 169.4,908.6 169.6,906.7 169.9,904.8 170.1,903 170.3,901.3 170.5,899.6 170.7,897.9 171,896.3 171.2,894.7 171.4,893.2 171.6,891.7 171.9,890.3 172.1,888.9 172.3,887.6 172.6,886.3 172.8,885 173,883.8 173.5,881.5 174,879.4 174.4,877.3 174.9,875.5 175.4,873.7 175.9,872.1 176.4,870.6 176.8,869.3 178.5,865.4 180.1,862.6 181.7,860.4 183.3,858.8 185,857.7 186.6,856.9 188.2,856.3 189.8,855.9 191.5,855.7 193.1,855.5 194.7,855.4 196.3,855.4 198,855.3 199.6,855.3 201.2,855.3 202.8,855.3 204.5,855.3 206.1,855.3 207.7,855.3 209.3,855.3 211,855.3 212.6,855.3" fill="none" stroke="#2433e6" stroke-width="2.6" stroke-linejoin="round" stroke-linecap="round"/>
<path d="M289.1,1468.8 292.2,1468.6 295.3,1468.2 298.4,1467.7 301.5,1467.1 304.7,1466.3 307.8,1465.5 310.9,1464.7 314,1463.7 317.1,1462.7 320.2,1461.7 323.3,1460.6 326.4,1459.4 329.5,1458.1 332.7,1456.9 335.8,1455.5 338.8,1454.2 341.8,1452.7 344.8,1451.2 347.8,1449.5 350.9,1447.7 353.9,1445.8 356.9,1443.7 360,1441.5 363,1439.1 366.1,1436.5 367.6,1435.2 369.1,1433.8 370.7,1432.4 372.2,1430.9 373.7,1429.4 375.2,1427.8 376.8,1426.2 378.3,1424.5 379.8,1422.8 381.3,1421.1 382.8,1419.3 384.4,1417.4 385.9,1415.5 387.4,1413.5 388.9,1411.5 390.4,1409.4 392,1407.3 393.5,1405.1 395,1402.9 396.5,1400.6 398,1398.2 399.5,1395.8 401,1393.3 402.5,1390.8 404,1388.2 405.5,1385.6 407,1382.9 408.5,1380.1 410,1377.3 411.5,1374.4 413,1371.5 414.4,1368.5 415.9,1365.4 417.4,1362.3 418.9,1359.1 420.4,1355.9 421.8,1352.6 423.3,1349.2 424.8,1345.8 426.2,1342.4 427.7,1338.8 429.1,1335.2 430.6,1331.6 432,1327.9 433.5,1324.2 434.9,1320.4 436.4,1316.5 437.8,1312.6 439.2,1308.6 440.7,1304.6 442.1,1300.5 443.5,1296.4 444.9,1292.3 446.4,1288.1 447.8,1283.8 449.2,1279.5 450.6,1275.2 452,1270.8 453.4,1266.4 454.8,1261.9 456.2,1257.4 457.6,1252.9 459,1248.3 460.4,1243.7 461.8,1239.1 463.2,1234.4 464.5,1229.7 465.9,1225 467.3,1220.2 468.7,1215.5 470,1210.7 471.4,1205.9 472.8,1201 474.1,1196.2 475.5,1191.3 476.9,1186.5 478.2,1181.6 479.6,1176.7 480.9,1171.8 482.3,1166.9 483.6,1162 485,1157.2 486.3,1152.3 487.7,1147.4 489,1142.5 490.4,1137.6 491.7,1132.8 493,1127.9 494.4,1123.1 495.7,1118.2 497,1113.4 498.4,1108.6 499.7,1103.9 501,1099.1 502.4,1094.4 503.7,1089.7 505,1085 506.4,1080.4 507.7,1075.8 509,1071.2 510.4,1066.7 511.7,1062.2 513,1057.7 514.4,1053.3 515.7,1048.9 517.1,1044.6 518.4,1040.3 519.7,1036 521.1,1031.8 522.4,1027.7 523.8,1023.6 525.1,1019.5 526.5,1015.5 527.8,1011.5 529.2,1007.6 530.5,1003.7 531.9,999.9 533.2,996.2 534.6,992.5 536,988.9 537.3,985.3 538.7,981.7 540.1,978.3 541.5,974.9 542.9,971.5 544.3,968.2 545.7,965 547.1,961.8 548.5,958.7 549.9,955.6 551.3,952.6 552.7,949.7 554.1,946.8 555.6,944 557,941.2 558.5,938.5 559.9,935.9 561.4,933.3 562.9,930.8 564.3,928.3 565.8,925.9 567.3,923.5 568.8,921.2 570.3,919 571.8,916.8 573.4,914.7 574.9,912.6 576.5,910.6 578,908.6 579.6,906.7 581.2,904.8 582.8,903 584.4,901.3 586,899.6 587.6,897.9 589.2,896.3 590.9,894.7 592.5,893.2 594.2,891.7 595.9,890.3 597.6,888.9 599.3,887.6 601,886.3 602.8,885 604.5,883.8 606.3,882.6 608.1,881.5 609.9,880.4 611.7,879.4 613.5,878.3 615.3,877.3 617.2,876.4 619.1,875.5 621,874.6 622.9,873.7 624.8,872.9 626.8,872.1 628.8,871.4 630.7,870.6 632.8,869.9 634.8,869.3 637.8,868.3 640.8,867.4 643.9,866.5 646.9,865.7 649.9,865 653,864.2 656,863.6 659,862.9 662.1,862.3 665.1,861.8 668.1,861.2 671.2,860.7 674.2,860.3 677.2,859.8 680.3,859.4 683.3,859.1 686.3,858.7 689.4,858.4 692.4,858.1 695.4,857.8 698.5,857.6 701.5,857.3 704.5,857.1 707.6,856.9 710.6,856.7 713.6,856.6 716.7,856.4 719.7,856.3 722.7,856.2 725.8,856.1 728.8,856 731.8,855.9 734.9,855.8 737.9,855.7 740.9,855.7 744,855.6 747,855.6 750,855.5 753.1,855.5 756.1,855.4 759.1,855.4 762.2,855.4 765.2,855.4 768.2,855.4 771.3,855.3 774.3,855.3 777.3,855.3 780.4,855.3 783.4,855.3 786.4,855.3 789.5,855.3 792.5,855.3 795.5,855.3 798.6,855.3 801.6,855.3 804.6,855.3 807.7,855.3 810.7,855.3 813.7,855.3 816.8,855.3 819.8,855.3" fill="none" stroke="#0b9a3e" stroke-width="3" stroke-linejoin="round" stroke-linecap="round"/>
<path d="M110,854.5 H175.8 M110,1468.8 H175.8" stroke="#a070c4" stroke-width="2.3" fill="none"/>
<path d="M175.8,854.5 H934.3 M175.8,1468.8 H934.3" stroke="#6f8f6d" stroke-width="2.3" fill="none"/>
<line x1="110" y1="853.3" x2="110" y2="1470" stroke="#a070c4" stroke-width="2.3"/>
<line x1="934.3" y1="853.3" x2="934.3" y2="1470" stroke="#6f8f6d" stroke-width="2.5999999999999996"/>
<path d="M110,1468.8 h-9 M110,1407.4 h-5 M110,1345.9 h-9 M110,1284.5 h-5 M110,1223.1 h-9 M110,1161.7 h-5 M110,1100.2 h-9 M110,1038.8 h-5 M110,977.4 h-9 M110,915.9 h-5 M110,854.5 h-9 M110,1468.8 v9 M241.7,1468.8 v9 M373.4,1468.8 v9 M505.1,1468.8 v9 M636.8,1468.8 v9 M768.5,1468.8 v9 M900.2,1468.8 v9 M175.8,1468.8 v5 M307.5,1468.8 v5 M439.2,1468.8 v5 M570.9,1468.8 v5 M702.6,1468.8 v5 M834.3,1468.8 v5" stroke="#3a3a3a" stroke-width="2.2" fill="none"/>
<text x="92.8" y="1477.4" font-size="27.5" text-anchor="end" fill="#111" textLength="12.3" lengthAdjust="spacingAndGlyphs">0</text>
<text x="92.8" y="1354.5" font-size="27.5" text-anchor="end" fill="#111" textLength="24.6" lengthAdjust="spacingAndGlyphs">20</text>
<text x="92.8" y="1231.7" font-size="27.5" text-anchor="end" fill="#111" textLength="24.6" lengthAdjust="spacingAndGlyphs">40</text>
<text x="92.8" y="1108.8" font-size="27.5" text-anchor="end" fill="#111" textLength="24.6" lengthAdjust="spacingAndGlyphs">60</text>
<text x="92.8" y="986" font-size="27.5" text-anchor="end" fill="#111" textLength="24.6" lengthAdjust="spacingAndGlyphs">80</text>
<text x="92.8" y="863.1" font-size="27.5" text-anchor="end" fill="#111" textLength="36.9" lengthAdjust="spacingAndGlyphs">100</text>
<text x="110" y="1506" font-size="24.5" text-anchor="middle" fill="#111">0</text>
<text x="209.3" y="1506" font-size="24.5" fill="#111">2×10</text>
<text x="260.3" y="1494" font-size="14.5" fill="#111">-4</text>
<text x="341" y="1506" font-size="24.5" fill="#111">4×10</text>
<text x="392" y="1494" font-size="14.5" fill="#111">-4</text>
<text x="472.7" y="1506" font-size="24.5" fill="#111">6×10</text>
<text x="523.7" y="1494" font-size="14.5" fill="#111">-4</text>
<text x="604.4" y="1506" font-size="24.5" fill="#111">8×10</text>
<text x="655.4" y="1494" font-size="14.5" fill="#111">-4</text>
<text x="736.1" y="1506" font-size="24.5" fill="#111">1×10</text>
<text x="787.1" y="1494" font-size="14.5" fill="#111">-3</text>
<text x="867.8" y="1506" font-size="24.5" fill="#111">1×10</text>
<text x="918.8" y="1494" font-size="14.5" fill="#111">-3</text>
<text x="528.5" y="1550.5" font-size="36" text-anchor="middle" fill="#111">CR Ni</text>
<g transform="translate(48,1348.1) rotate(-90) scale(1.0)" fill="#111">
<text x="0" y="0" font-size="28.7">Cumulative probability</text>
<text x="308" y="0" text-anchor="end" font-family="'Noto Serif CJK SC','Liberation Serif',serif" font-weight="normal" font-size="27">（</text>
<text x="306.8" y="0" font-size="31" textLength="42" lengthAdjust="spacingAndGlyphs">%</text>
<text x="345.5" y="0" font-family="'Noto Serif CJK SC','Liberation Serif',serif" font-weight="normal" font-size="27">）</text>
</g>
<text x="853.2" y="928.8" font-size="55" fill="#0a0a0a">(c)</text>
<line x1="561.5" y1="1057.3" x2="632" y2="1057.3" stroke="#2a3fb4" stroke-width="3"/>
<line x1="561.5" y1="1096.8" x2="631" y2="1096.8" stroke="#0b9a3e" stroke-width="3"/>
<text x="643" y="1067.6" font-size="30.8" fill="#1c22d4">Adults</text>
<text x="642" y="1107" font-size="30.8" fill="#0a8f2e">Children</text>
<text x="564" y="1187.7" font-size="31" fill="#1c22d4">Mean=7.71×10</text>
<text x="762" y="1174.2" font-size="19.5" fill="#1c22d4" textLength="23" lengthAdjust="spacingAndGlyphs">−</text>
<text x="783.2" y="1175.7" font-size="19.5" fill="#1c22d4">5</text>
<text x="564" y="1231.2" font-size="31" fill="#0a8f2e">Mean=5.96×10</text>
<text x="762" y="1217.7" font-size="19.5" fill="#0a8f2e" textLength="23" lengthAdjust="spacingAndGlyphs">−</text>
<text x="783.2" y="1219.2" font-size="19.5" fill="#0a8f2e">4</text>
<text x="564" y="1314.5" font-size="31" fill="#0a8f2e">Adults(5.98%&gt;1×10</text>
<text x="831" y="1301" font-size="19.5" fill="#0a8f2e" textLength="23" lengthAdjust="spacingAndGlyphs">−</text>
<text x="852.2" y="1302.5" font-size="19.5" fill="#0a8f2e">4</text>
<text x="862.5" y="1314.5" font-size="31" fill="#0a8f2e">)</text>
<text x="564" y="1357.5" font-size="31" fill="#0a8f2e">Adults(94.02%&gt;1×10</text>
<text x="846.5" y="1344" font-size="19.5" fill="#0a8f2e" textLength="23" lengthAdjust="spacingAndGlyphs">−</text>
<text x="867.7" y="1345.5" font-size="19.5" fill="#0a8f2e">6</text>
<text x="878" y="1357.5" font-size="31" fill="#0a8f2e">)</text>
<text x="564" y="1400.3" font-size="31" fill="#1c22d4">Children(100%&gt;1×10</text>
<text x="853.6" y="1386.8" font-size="19.5" fill="#1c22d4" textLength="23" lengthAdjust="spacingAndGlyphs">−</text>
<text x="874.8" y="1388.3" font-size="19.5" fill="#1c22d4">4</text>
<text x="885.2" y="1400.3" font-size="31" fill="#1c22d4">)</text>
</g>
<g>
<rect x="1089.4" y="854.5" width="5.8" height="614.3" fill="#b6c6f2"/>
<rect x="1095.2" y="854.5" width="540.3" height="614.3" fill="#e097fa"/>
<rect x="1635.5" y="854.5" width="274.3" height="614.3" fill="#d7efc0"/>
<rect x="1094.2" y="854.5" width="2" height="614.3" fill="#b0b8c8" opacity="0.35"/>
<rect x="1634.5" y="854.5" width="2" height="614.3" fill="#b0b8c8" opacity="0.35"/>
<line x1="1131.5" y1="869" x2="1131.5" y2="1468.8" stroke="#8a2fc0" stroke-width="2.6" stroke-dasharray="18.5 12.2"/>
<line x1="1455" y1="869" x2="1455" y2="1468.8" stroke="#7d4f92" stroke-width="2.6" stroke-dasharray="18.5 12.2"/>
<path d="M1107.2,1468.8 1108.1,1467.1 1109,1464.7 1110,1461.7 1110.9,1458.4 1111.8,1454.8 1112.1,1453.5 1112.5,1452 1112.8,1450.4 1113.1,1448.6 1113.4,1446.8 1113.8,1444.7 1114.1,1442.6 1114.4,1440.3 1114.6,1439.1 1114.7,1437.8 1114.9,1436.5 1115,1435.2 1115.2,1433.8 1115.4,1432.4 1115.5,1430.9 1115.7,1429.4 1115.8,1427.8 1116,1426.2 1116.2,1424.5 1116.3,1422.8 1116.5,1421.1 1116.6,1419.3 1116.8,1417.4 1116.9,1415.5 1117.1,1413.5 1117.3,1411.5 1117.4,1409.4 1117.6,1407.3 1117.7,1405.1 1117.9,1402.9 1118,1400.6 1118.2,1398.2 1118.4,1395.8 1118.5,1393.3 1118.7,1390.8 1118.8,1388.2 1119,1385.6 1119.1,1382.9 1119.3,1380.1 1119.4,1377.3 1119.6,1374.4 1119.8,1371.5 1119.9,1368.5 1120.1,1365.4 1120.2,1362.3 1120.4,1359.1 1120.5,1355.9 1120.7,1352.6 1120.8,1349.2 1121,1345.8 1121.1,1342.4 1121.3,1338.8 1121.5,1335.2 1121.6,1331.6 1121.8,1327.9 1121.9,1324.2 1122.1,1320.4 1122.2,1316.5 1122.4,1312.6 1122.5,1308.6 1122.7,1304.6 1122.9,1300.5 1123,1296.4 1123.2,1292.3 1123.3,1288.1 1123.5,1283.8 1123.6,1279.5 1123.8,1275.2 1123.9,1270.8 1124.1,1266.4 1124.3,1261.9 1124.4,1257.4 1124.6,1252.9 1124.7,1248.3 1124.9,1243.7 1125,1239.1 1125.2,1234.4 1125.3,1229.7 1125.5,1225 1125.7,1220.2 1125.8,1215.5 1126,1210.7 1126.1,1205.9 1126.3,1201 1126.4,1196.2 1126.6,1191.3 1126.8,1186.5 1126.9,1181.6 1127.1,1176.7 1127.2,1171.8 1127.4,1166.9 1127.5,1162 1127.7,1157.2 1127.9,1152.3 1128,1147.4 1128.2,1142.5 1128.3,1137.6 1128.5,1132.8 1128.7,1127.9 1128.8,1123.1 1129,1118.2 1129.1,1113.4 1129.3,1108.6 1129.5,1103.9 1129.6,1099.1 1129.8,1094.4 1129.9,1089.7 1130.1,1085 1130.3,1080.4 1130.4,1075.8 1130.6,1071.2 1130.8,1066.7 1130.9,1062.2 1131.1,1057.7 1131.2,1053.3 1131.4,1048.9 1131.6,1044.6 1131.7,1040.3 1131.9,1036 1132.1,1031.8 1132.2,1027.7 1132.4,1023.6 1132.6,1019.5 1132.7,1015.5 1132.9,1011.5 1133.1,1007.6 1133.2,1003.7 1133.4,999.9 1133.6,996.2 1133.7,992.5 1133.9,988.9 1134.1,985.3 1134.2,981.7 1134.4,978.3 1134.6,974.9 1134.8,971.5 1134.9,968.2 1135.1,965 1135.3,961.8 1135.4,958.7 1135.6,955.6 1135.8,952.6 1136,949.7 1136.1,946.8 1136.3,944 1136.5,941.2 1136.7,938.5 1136.8,935.9 1137,933.3 1137.2,930.8 1137.4,928.3 1137.6,925.9 1137.7,923.5 1137.9,921.2 1138.1,919 1138.3,916.8 1138.4,914.7 1138.6,912.6 1138.8,910.6 1139,908.6 1139.2,906.7 1139.4,904.8 1139.5,903 1139.7,901.3 1139.9,899.6 1140.1,897.9 1140.3,896.3 1140.5,894.7 1140.6,893.2 1140.8,891.7 1141,890.3 1141.2,888.9 1141.4,887.6 1141.6,886.3 1141.8,885 1142,883.8 1142.4,881.5 1142.7,879.4 1143.1,877.3 1143.5,875.5 1143.9,873.7 1144.3,872.1 1144.7,870.6 1145.1,869.3 1146.7,864.7 1148.4,861.5 1150,859.3 1151.6,857.8 1153.2,856.8 1154.9,856.1 1156.5,855.8 1158.1,855.5 1159.8,855.4 1161.4,855.4 1163,855.3 1164.6,855.3 1166.3,855.3 1167.9,855.3 1169.5,855.3 1171.1,855.3 1172.8,855.3 1174.4,855.3" fill="none" stroke="#3a14dc" stroke-width="2.6" stroke-linejoin="round" stroke-linecap="round"/>
<path d="M1239.6,1468.8 1242.8,1468.6 1246,1468.2 1249.2,1467.6 1252.4,1467 1255.6,1466.2 1258.8,1465.4 1262,1464.5 1265.2,1463.5 1268.4,1462.5 1271.5,1461.3 1274.7,1460.2 1277.9,1458.9 1281.1,1457.6 1284.3,1456.3 1287.5,1454.8 1290.5,1453.5 1293.4,1452 1296.4,1450.4 1299.3,1448.6 1302.3,1446.8 1305.2,1444.7 1308.2,1442.6 1311.1,1440.3 1314.1,1437.8 1317,1435.2 1318.5,1433.8 1319.9,1432.4 1321.4,1430.9 1322.8,1429.4 1324.3,1427.8 1325.8,1426.2 1327.2,1424.5 1328.7,1422.8 1330.1,1421.1 1331.6,1419.3 1333,1417.4 1334.4,1415.5 1335.9,1413.5 1337.3,1411.5 1338.7,1409.4 1340.2,1407.3 1341.6,1405.1 1343,1402.9 1344.4,1400.6 1345.9,1398.2 1347.3,1395.8 1348.7,1393.3 1350.1,1390.8 1351.5,1388.2 1352.9,1385.6 1354.3,1382.9 1355.7,1380.1 1357.1,1377.3 1358.5,1374.4 1359.9,1371.5 1361.2,1368.5 1362.6,1365.4 1364,1362.3 1365.4,1359.1 1366.7,1355.9 1368.1,1352.6 1369.4,1349.2 1370.8,1345.8 1372.1,1342.4 1373.5,1338.8 1374.8,1335.2 1376.2,1331.6 1377.5,1327.9 1378.8,1324.2 1380.2,1320.4 1381.5,1316.5 1382.8,1312.6 1384.1,1308.6 1385.4,1304.6 1386.7,1300.5 1388.1,1296.4 1389.4,1292.3 1390.7,1288.1 1391.9,1283.8 1393.2,1279.5 1394.5,1275.2 1395.8,1270.8 1397.1,1266.4 1398.4,1261.9 1399.6,1257.4 1400.9,1252.9 1402.2,1248.3 1403.4,1243.7 1404.7,1239.1 1405.9,1234.4 1407.2,1229.7 1408.5,1225 1409.7,1220.2 1410.9,1215.5 1412.2,1210.7 1413.4,1205.9 1414.7,1201 1415.9,1196.2 1417.1,1191.3 1418.4,1186.5 1419.6,1181.6 1420.8,1176.7 1422,1171.8 1423.2,1166.9 1424.5,1162 1425.7,1157.2 1426.9,1152.3 1428.1,1147.4 1429.3,1142.5 1430.5,1137.6 1431.7,1132.8 1432.9,1127.9 1434.1,1123.1 1435.3,1118.2 1436.5,1113.4 1437.8,1108.6 1439,1103.9 1440.2,1099.1 1441.4,1094.4 1442.6,1089.7 1443.8,1085 1445,1080.4 1446.2,1075.8 1447.4,1071.2 1448.6,1066.7 1449.8,1062.2 1451,1057.7 1452.2,1053.3 1453.4,1048.9 1454.6,1044.6 1455.8,1040.3 1457,1036 1458.2,1031.8 1459.4,1027.7 1460.6,1023.6 1461.8,1019.5 1463,1015.5 1464.3,1011.5 1465.5,1007.6 1466.7,1003.7 1467.9,999.9 1469.2,996.2 1470.4,992.5 1471.7,988.9 1472.9,985.3 1474.1,981.7 1475.4,978.3 1476.7,974.9 1477.9,971.5 1479.2,968.2 1480.4,965 1481.7,961.8 1483,958.7 1484.3,955.6 1485.6,952.6 1486.9,949.7 1488.2,946.8 1489.5,944 1490.8,941.2 1492.1,938.5 1493.5,935.9 1494.8,933.3 1496.2,930.8 1497.5,928.3 1498.9,925.9 1500.3,923.5 1501.6,921.2 1503,919 1504.4,916.8 1505.8,914.7 1507.3,912.6 1508.7,910.6 1510.1,908.6 1511.6,906.7 1513,904.8 1514.5,903 1516,901.3 1517.5,899.6 1519,897.9 1520.5,896.3 1522.1,894.7 1523.6,893.2 1525.2,891.7 1526.7,890.3 1528.3,888.9 1529.9,887.6 1531.5,886.3 1533.2,885 1534.8,883.8 1536.5,882.6 1538.2,881.5 1539.8,880.4 1541.6,879.4 1543.3,878.3 1545,877.3 1548.6,875.5 1550.3,874.6 1552.2,873.7 1554,872.9 1555.8,872.1 1557.7,871.4 1559.6,870.6 1561.5,869.9 1563.4,869.3 1566.5,868.2 1569.5,867.3 1572.6,866.4 1575.6,865.6 1578.6,864.8 1581.7,864.1 1584.7,863.4 1587.7,862.7 1590.8,862.1 1593.8,861.6 1596.9,861 1599.9,860.5 1602.9,860.1 1606,859.7 1609,859.3 1612,858.9 1615.1,858.6 1618.1,858.3 1621.2,858 1624.2,857.7 1627.2,857.5 1630.3,857.3 1633.3,857 1636.4,856.9 1639.4,856.7 1642.4,856.5 1645.5,856.4 1648.5,856.3 1651.5,856.2 1654.6,856.1 1657.6,856 1660.7,855.9 1663.7,855.8 1666.7,855.7 1669.8,855.7 1672.8,855.6 1675.9,855.6 1678.9,855.5 1681.9,855.5 1685,855.5 1688,855.4 1691,855.4 1694.1,855.4 1697.1,855.4 1700.2,855.4 1703.2,855.4 1706.2,855.3 1709.3,855.3 1712.3,855.3 1715.4,855.3 1718.4,855.3 1721.4,855.3 1724.5,855.3 1727.5,855.3 1730.5,855.3 1733.6,855.3 1736.6,855.3 1739.7,855.3 1742.7,855.3 1745.7,855.3 1748.8,855.3 1751.8,855.3 1754.9,855.3 1757.9,855.3 1760.9,855.3 1764,855.3 1767,855.3 1770,855.3 1773.1,855.3 1774.6,855.3" fill="none" stroke="#4d6670" stroke-width="3.6" stroke-linejoin="round"/>
<path d="M1239.6,1468.8 1242.8,1468.6 1246,1468.2 1249.2,1467.6 1252.4,1467 1255.6,1466.2 1258.8,1465.4 1262,1464.5 1265.2,1463.5 1268.4,1462.5 1271.5,1461.3 1274.7,1460.2 1277.9,1458.9 1281.1,1457.6 1284.3,1456.3 1287.5,1454.8 1290.5,1453.5 1293.4,1452 1296.4,1450.4 1299.3,1448.6 1302.3,1446.8 1305.2,1444.7 1308.2,1442.6 1311.1,1440.3 1314.1,1437.8 1317,1435.2 1318.5,1433.8 1319.9,1432.4 1321.4,1430.9 1322.8,1429.4 1324.3,1427.8 1325.8,1426.2 1327.2,1424.5 1328.7,1422.8 1330.1,1421.1 1331.6,1419.3 1333,1417.4 1334.4,1415.5 1335.9,1413.5 1337.3,1411.5 1338.7,1409.4 1340.2,1407.3 1341.6,1405.1 1343,1402.9 1344.4,1400.6 1345.9,1398.2 1347.3,1395.8 1348.7,1393.3 1350.1,1390.8 1351.5,1388.2 1352.9,1385.6 1354.3,1382.9 1355.7,1380.1 1357.1,1377.3 1358.5,1374.4 1359.9,1371.5 1361.2,1368.5 1362.6,1365.4 1364,1362.3 1365.4,1359.1 1366.7,1355.9 1368.1,1352.6 1369.4,1349.2 1370.8,1345.8 1372.1,1342.4 1373.5,1338.8 1374.8,1335.2 1376.2,1331.6 1377.5,1327.9 1378.8,1324.2 1380.2,1320.4 1381.5,1316.5 1382.8,1312.6 1384.1,1308.6 1385.4,1304.6 1386.7,1300.5 1388.1,1296.4 1389.4,1292.3 1390.7,1288.1 1391.9,1283.8 1393.2,1279.5 1394.5,1275.2 1395.8,1270.8 1397.1,1266.4 1398.4,1261.9 1399.6,1257.4 1400.9,1252.9 1402.2,1248.3 1403.4,1243.7 1404.7,1239.1 1405.9,1234.4 1407.2,1229.7 1408.5,1225 1409.7,1220.2 1410.9,1215.5 1412.2,1210.7 1413.4,1205.9 1414.7,1201 1415.9,1196.2 1417.1,1191.3 1418.4,1186.5 1419.6,1181.6 1420.8,1176.7 1422,1171.8 1423.2,1166.9 1424.5,1162 1425.7,1157.2 1426.9,1152.3 1428.1,1147.4 1429.3,1142.5 1430.5,1137.6 1431.7,1132.8 1432.9,1127.9 1434.1,1123.1 1435.3,1118.2 1436.5,1113.4 1437.8,1108.6 1439,1103.9 1440.2,1099.1 1441.4,1094.4 1442.6,1089.7 1443.8,1085 1445,1080.4 1446.2,1075.8 1447.4,1071.2 1448.6,1066.7 1449.8,1062.2 1451,1057.7 1452.2,1053.3 1453.4,1048.9 1454.6,1044.6 1455.8,1040.3 1457,1036 1458.2,1031.8 1459.4,1027.7 1460.6,1023.6 1461.8,1019.5 1463,1015.5 1464.3,1011.5 1465.5,1007.6 1466.7,1003.7 1467.9,999.9 1469.2,996.2 1470.4,992.5 1471.7,988.9 1472.9,985.3 1474.1,981.7 1475.4,978.3 1476.7,974.9 1477.9,971.5 1479.2,968.2 1480.4,965 1481.7,961.8 1483,958.7 1484.3,955.6 1485.6,952.6 1486.9,949.7 1488.2,946.8 1489.5,944 1490.8,941.2 1492.1,938.5 1493.5,935.9 1494.8,933.3 1496.2,930.8 1497.5,928.3 1498.9,925.9 1500.3,923.5 1501.6,921.2 1503,919 1504.4,916.8 1505.8,914.7 1507.3,912.6 1508.7,910.6 1510.1,908.6 1511.6,906.7 1513,904.8 1514.5,903 1516,901.3 1517.5,899.6 1519,897.9 1520.5,896.3 1522.1,894.7 1523.6,893.2 1525.2,891.7 1526.7,890.3 1528.3,888.9 1529.9,887.6 1531.5,886.3 1533.2,885 1534.8,883.8 1536.5,882.6 1538.2,881.5 1539.8,880.4 1541.6,879.4 1543.3,878.3 1545,877.3 1548.6,875.5 1550.3,874.6 1552.2,873.7 1554,872.9 1555.8,872.1 1557.7,871.4 1559.6,870.6 1561.5,869.9 1563.4,869.3 1566.5,868.2 1569.5,867.3 1572.6,866.4 1575.6,865.6 1578.6,864.8 1581.7,864.1 1584.7,863.4 1587.7,862.7 1590.8,862.1 1593.8,861.6 1596.9,861 1599.9,860.5 1602.9,860.1 1606,859.7 1609,859.3 1612,858.9 1615.1,858.6 1618.1,858.3 1621.2,858 1624.2,857.7 1627.2,857.5 1630.3,857.3 1633.3,857 1636.4,856.9 1639.4,856.7 1642.4,856.5 1645.5,856.4 1648.5,856.3 1651.5,856.2 1654.6,856.1 1657.6,856 1660.7,855.9 1663.7,855.8 1666.7,855.7 1669.8,855.7 1672.8,855.6 1675.9,855.6 1678.9,855.5 1681.9,855.5 1685,855.5 1688,855.4 1691,855.4 1694.1,855.4 1697.1,855.4 1700.2,855.4 1703.2,855.4 1706.2,855.3 1709.3,855.3 1712.3,855.3 1715.4,855.3 1718.4,855.3 1721.4,855.3 1724.5,855.3 1727.5,855.3 1730.5,855.3 1733.6,855.3 1736.6,855.3 1739.7,855.3 1742.7,855.3 1745.7,855.3 1748.8,855.3 1751.8,855.3 1754.9,855.3 1757.9,855.3 1760.9,855.3 1764,855.3 1767,855.3 1770,855.3 1773.1,855.3 1774.6,855.3" fill="none" stroke="#0d9a48" stroke-width="2.2" stroke-linejoin="round" stroke-linecap="round"/>
<path d="M1089.4,854.5 H1095.2 M1089.4,1468.8 H1095.2" stroke="#4a5f8c" stroke-width="2.3" fill="none"/>
<path d="M1095.2,854.5 H1635.5 M1095.2,1468.8 H1635.5" stroke="#96709f" stroke-width="2.3" fill="none"/>
<path d="M1635.5,854.5 H1909.8 M1635.5,1468.8 H1909.8" stroke="#8a9a78" stroke-width="2.3" fill="none"/>
<line x1="1089.4" y1="853.3" x2="1089.4" y2="1470" stroke="#4a5f8c" stroke-width="2.3"/>
<line x1="1909.8" y1="853.3" x2="1909.8" y2="1470" stroke="#8a9a78" stroke-width="2.5999999999999996"/>
<path d="M1089.4,1468.8 h-9 M1089.4,1407.4 h-5 M1089.4,1345.9 h-9 M1089.4,1284.5 h-5 M1089.4,1223.1 h-9 M1089.4,1161.7 h-5 M1089.4,1100.2 h-9 M1089.4,1038.8 h-5 M1089.4,977.4 h-9 M1089.4,915.9 h-5 M1089.4,854.5 h-9 M1089.4,1468.8 v9 M1362.4,1468.8 v9 M1635.4,1468.8 v9 M1908.4,1468.8 v9 M1225.9,1468.8 v5 M1498.9,1468.8 v5 M1771.9,1468.8 v5" stroke="#3a3a3a" stroke-width="2.2" fill="none"/>
<text x="1074.6" y="1477.4" font-size="27.5" text-anchor="end" fill="#111" textLength="12.3" lengthAdjust="spacingAndGlyphs">0</text>
<text x="1074.6" y="1354.5" font-size="27.5" text-anchor="end" fill="#111" textLength="24.6" lengthAdjust="spacingAndGlyphs">20</text>
<text x="1074.6" y="1231.7" font-size="27.5" text-anchor="end" fill="#111" textLength="24.6" lengthAdjust="spacingAndGlyphs">40</text>
<text x="1074.6" y="1108.8" font-size="27.5" text-anchor="end" fill="#111" textLength="24.6" lengthAdjust="spacingAndGlyphs">60</text>
<text x="1074.6" y="986" font-size="27.5" text-anchor="end" fill="#111" textLength="24.6" lengthAdjust="spacingAndGlyphs">80</text>
<text x="1074.6" y="863.1" font-size="27.5" text-anchor="end" fill="#111" textLength="36.9" lengthAdjust="spacingAndGlyphs">100</text>
<text x="1089.4" y="1506" font-size="24.5" text-anchor="middle" fill="#111">0</text>
<text x="1330" y="1506" font-size="24.5" fill="#111">5×10</text>
<text x="1381" y="1494" font-size="14.5" fill="#111">-5</text>
<text x="1603" y="1506" font-size="24.5" fill="#111">1×10</text>
<text x="1654" y="1494" font-size="14.5" fill="#111">-4</text>
<text x="1876" y="1506" font-size="24.5" fill="#111">2×10</text>
<text x="1927" y="1494" font-size="14.5" fill="#111">-4</text>
<text x="1508" y="1550.5" font-size="36" text-anchor="middle" fill="#111">CR As</text>
<g transform="translate(1027.4,1348.1) rotate(-90) scale(1.0)" fill="#111">
<text x="0" y="0" font-size="28.7">Cumulative probability</text>
<text x="308" y="0" text-anchor="end" font-family="'Noto Serif CJK SC','Liberation Serif',serif" font-weight="normal" font-size="27">（</text>
<text x="306.8" y="0" font-size="31" textLength="42" lengthAdjust="spacingAndGlyphs">%</text>
<text x="345.5" y="0" font-family="'Noto Serif CJK SC','Liberation Serif',serif" font-weight="normal" font-size="27">）</text>
</g>
<text x="1827.7" y="928.8" font-size="55" fill="#0a0a0a">(d)</text>
<line x1="1539" y1="1057.3" x2="1610.5" y2="1057.3" stroke="#3a25e6" stroke-width="3"/>
<line x1="1539" y1="1096.8" x2="1610" y2="1096.8" stroke="#4d6670" stroke-width="3.4"/>
<line x1="1539" y1="1096.8" x2="1610" y2="1096.8" stroke="#0d9a48" stroke-width="2"/>
<text x="1619.6" y="1067.6" font-size="30.8" fill="#1c22d4">Adults</text>
<text x="1618" y="1107.1" font-size="30.8" fill="#0a8f2e">Children</text>
<text x="1542.3" y="1187.7" font-size="31" fill="#1c22d4">Mean=7.74×10</text>
<text x="1740.3" y="1174.2" font-size="19.5" fill="#1c22d4" textLength="23" lengthAdjust="spacingAndGlyphs">−</text>
<text x="1761.5" y="1175.7" font-size="19.5" fill="#1c22d4">6</text>
<text x="1542.3" y="1231.2" font-size="31" fill="#0a8f2e">Mean6.69×10</text>
<text x="1722.7" y="1217.7" font-size="19.5" fill="#0a8f2e" textLength="23" lengthAdjust="spacingAndGlyphs">−</text>
<text x="1743.9" y="1219.2" font-size="19.5" fill="#0a8f2e">5</text>
<text x="1542.3" y="1313.2" font-size="31" fill="#1c22d4">Adults(100%&gt;1×10</text>
<text x="1801.5" y="1299.7" font-size="19.5" fill="#1c22d4" textLength="23" lengthAdjust="spacingAndGlyphs">−</text>
<text x="1822.7" y="1301.2" font-size="19.5" fill="#1c22d4">6</text>
<text x="1833.1" y="1313.2" font-size="31" fill="#1c22d4">)</text>
<text x="1542.3" y="1356.8" font-size="31" fill="#0a8f2e">Children(99.09%&gt;1×10</text>
<text x="1855.2" y="1343.3" font-size="19.5" fill="#0a8f2e" textLength="23" lengthAdjust="spacingAndGlyphs">−</text>
<text x="1876.4" y="1344.8" font-size="19.5" fill="#0a8f2e">6</text>
<text x="1886.7" y="1356.8" font-size="31" fill="#0a8f2e">)</text>
<text x="1542.3" y="1400.3" font-size="31" fill="#0a8f2e">Children(0.91%&gt;1×10</text>
<text x="1839.7" y="1386.8" font-size="19.5" fill="#0a8f2e" textLength="23" lengthAdjust="spacingAndGlyphs">−</text>
<text x="1860.9" y="1388.3" font-size="19.5" fill="#0a8f2e">4</text>
<text x="1871.2" y="1400.3" font-size="31" fill="#0a8f2e">)</text>
</g>
<g>
<rect x="110" y="1583.8" width="102" height="615.7" fill="#a5e1f9"/>
<rect x="212" y="1583.8" width="723" height="615.7" fill="#d9a1fb"/>
<rect x="211" y="1583.8" width="2" height="615.7" fill="#b0b8c8" opacity="0.35"/>
<line x1="155.6" y1="1598.3" x2="155.6" y2="2199.5" stroke="#1f48d8" stroke-width="3.2" stroke-dasharray="18.5 12.2"/>
<line x1="530" y1="1598.3" x2="530" y2="2199.5" stroke="#6f4f86" stroke-width="2.6" stroke-dasharray="18.5 12.2"/>
<path d="M129,2199.5 130,2197.5 131,2194.8 132.1,2191.9 133.1,2188.8 134.1,2185.5 134.5,2184.1 134.9,2182.6 135.3,2181 135.7,2179.3 136.1,2177.4 136.5,2175.4 136.9,2173.2 137.2,2170.9 137.4,2169.7 137.6,2168.4 137.8,2167.1 138,2165.8 138.2,2164.4 138.3,2163 138.5,2161.5 138.7,2160 138.9,2158.4 139.1,2156.8 139.2,2155.1 139.4,2153.4 139.6,2151.7 139.8,2149.8 139.9,2148 140.1,2146.1 140.3,2144.1 140.5,2142.1 140.6,2140 140.8,2137.8 141,2135.7 141.2,2133.4 141.3,2131.1 141.5,2128.7 141.7,2126.3 141.8,2123.9 142,2121.3 142.2,2118.7 142.4,2116.1 142.5,2113.4 142.7,2110.6 142.9,2107.8 143,2104.9 143.2,2101.9 143.4,2098.9 143.5,2095.9 143.7,2092.7 143.8,2089.6 144,2086.3 144.2,2083 144.3,2079.7 144.5,2076.2 144.7,2072.8 144.8,2069.2 145,2065.6 145.1,2062 145.3,2058.3 145.5,2054.5 145.6,2050.7 145.8,2046.8 146,2042.9 146.1,2039 146.3,2034.9 146.4,2030.9 146.6,2026.7 146.8,2022.6 146.9,2018.4 147.1,2014.1 147.2,2009.8 147.4,2005.4 147.5,2001 147.7,1996.6 147.9,1992.1 148,1987.6 148.2,1983.1 148.3,1978.5 148.5,1973.9 148.7,1969.2 148.8,1964.6 149,1959.8 149.1,1955.1 149.3,1950.4 149.5,1945.6 149.6,1940.8 149.8,1936 149.9,1931.1 150.1,1926.3 150.3,1921.4 150.4,1916.5 150.6,1911.7 150.7,1906.8 150.9,1901.9 151.1,1897 151.2,1892 151.4,1887.1 151.5,1882.2 151.7,1877.3 151.9,1872.4 152,1867.6 152.2,1862.7 152.3,1857.8 152.5,1853 152.7,1848.1 152.8,1843.3 153,1838.5 153.2,1833.7 153.3,1829 153.5,1824.3 153.7,1819.5 153.8,1814.9 154,1810.2 154.2,1805.6 154.3,1801 154.5,1796.5 154.7,1792 154.8,1787.5 155,1783.1 155.2,1778.7 155.3,1774.3 155.5,1770 155.7,1765.7 155.8,1761.5 156,1757.4 156.2,1753.2 156.4,1749.2 156.5,1745.1 156.7,1741.2 156.9,1737.3 157.1,1733.4 157.2,1729.6 157.4,1725.8 157.6,1722.1 157.8,1718.5 158,1714.9 158.1,1711.3 158.3,1707.9 158.5,1704.4 158.7,1701.1 158.9,1697.8 159,1694.5 159.2,1691.4 159.4,1688.2 159.6,1685.2 159.8,1682.2 160,1679.2 160.2,1676.3 160.4,1673.5 160.5,1670.7 160.7,1668 160.9,1665.4 161.1,1662.8 161.3,1660.2 161.5,1657.8 161.7,1655.4 161.9,1653 162.1,1650.7 162.3,1648.4 162.5,1646.3 162.7,1644.1 162.9,1642 163.1,1640 163.3,1638 163.5,1636.1 163.7,1634.3 163.9,1632.4 164.1,1630.7 164.4,1629 164.6,1627.3 164.8,1625.7 165,1624.1 165.2,1622.6 165.4,1621.1 165.6,1619.7 165.9,1618.3 166.1,1617 166.3,1615.7 166.5,1614.4 166.7,1613.2 167.2,1610.9 167.7,1608.7 168.1,1606.7 168.6,1604.8 169.1,1603.1 169.5,1601.5 170,1600 170.5,1598.6 172.1,1594.8 173.7,1592 175.3,1589.8 176.9,1588.2 178.4,1587.1 180,1586.3 181.6,1585.7 183.2,1585.3 184.8,1585 186.4,1584.9 188,1584.7 189.5,1584.7 191.1,1584.6 192.7,1584.6 194.3,1584.6 195.9,1584.6 197.5,1584.6 199.1,1584.6 200.7,1584.6 202.2,1584.6 203.8,1584.6 205.4,1584.6 207,1584.6" fill="none" stroke="#1a3fe8" stroke-width="2.8" stroke-linejoin="round" stroke-linecap="round"/>
<path d="M289.1,2199.5 292.2,2199.4 295.4,2199.1 298.5,2198.7 301.7,2198.3 304.8,2197.7 308,2197.1 311.1,2196.4 314.3,2195.6 317.4,2194.8 320.6,2193.9 323.7,2193 326.8,2192 330,2190.9 333.1,2189.8 336.3,2188.6 339.4,2187.4 342.6,2186.2 345.7,2184.8 348.9,2183.4 352.1,2181.8 355.3,2180.2 358.5,2178.4 361.7,2176.4 365,2174.3 368.2,2172.1 371.4,2169.7 373,2168.4 374.6,2167.1 376.2,2165.8 377.9,2164.4 379.5,2163 381.1,2161.5 382.7,2160 384.3,2158.4 385.9,2156.8 387.5,2155.1 389.1,2153.4 390.7,2151.7 392.3,2149.8 393.9,2148 395.5,2146.1 397.1,2144.1 398.7,2142.1 400.3,2140 401.9,2137.8 403.5,2135.7 405.1,2133.4 406.7,2131.1 408.3,2128.7 409.8,2126.3 411.4,2123.9 413,2121.3 414.6,2118.7 416.1,2116.1 417.7,2113.4 419.3,2110.6 420.8,2107.8 422.4,2104.9 424,2101.9 425.5,2098.9 427.1,2095.9 428.6,2092.7 430.2,2089.6 431.7,2086.3 433.2,2083 434.8,2079.7 436.3,2076.2 437.8,2072.8 439.4,2069.2 440.9,2065.6 442.4,2062 443.9,2058.3 445.4,2054.5 446.9,2050.7 448.5,2046.8 450,2042.9 451.5,2039 453,2034.9 454.4,2030.9 455.9,2026.7 457.4,2022.6 458.9,2018.4 460.4,2014.1 461.9,2009.8 463.3,2005.4 464.8,2001 466.3,1996.6 467.7,1992.1 469.2,1987.6 470.6,1983.1 472.1,1978.5 473.5,1973.9 475,1969.2 476.4,1964.6 477.9,1959.8 479.3,1955.1 480.7,1950.4 482.2,1945.6 483.6,1940.8 485,1936 486.5,1931.1 487.9,1926.3 489.3,1921.4 490.7,1916.5 492.1,1911.7 493.5,1906.8 495,1901.9 496.4,1897 497.8,1892 499.2,1887.1 500.6,1882.2 502,1877.3 503.4,1872.4 504.8,1867.6 506.2,1862.7 507.6,1857.8 509,1853 510.3,1848.1 511.7,1843.3 513.1,1838.5 514.5,1833.7 515.9,1829 517.3,1824.3 518.7,1819.5 520.1,1814.9 521.5,1810.2 522.8,1805.6 524.2,1801 525.6,1796.5 527,1792 528.4,1787.5 529.8,1783.1 531.2,1778.7 532.6,1774.3 534,1770 535.4,1765.7 536.8,1761.5 538.2,1757.4 539.6,1753.2 541,1749.2 542.4,1745.1 543.8,1741.2 545.2,1737.3 546.6,1733.4 548,1729.6 549.4,1725.8 550.9,1722.1 552.3,1718.5 553.7,1714.9 555.1,1711.3 556.6,1707.9 558,1704.4 559.5,1701.1 560.9,1697.8 562.4,1694.5 563.8,1691.4 565.3,1688.2 566.8,1685.2 568.2,1682.2 569.7,1679.2 571.2,1676.3 572.7,1673.5 574.2,1670.7 575.7,1668 577.2,1665.4 578.8,1662.8 580.3,1660.2 581.8,1657.8 583.4,1655.4 584.9,1653 586.5,1650.7 588.1,1648.4 589.7,1646.3 591.3,1644.1 592.9,1642 594.5,1640 596.1,1638 597.7,1636.1 599.4,1634.3 601,1632.4 602.7,1630.7 604.4,1629 606.1,1627.3 607.8,1625.7 609.5,1624.1 611.2,1622.6 613,1621.1 614.7,1619.7 616.5,1618.3 618.3,1617 620.1,1615.7 621.9,1614.4 623.7,1613.2 625.6,1612 627.4,1610.9 629.3,1609.8 631.2,1608.7 633.1,1607.7 635.1,1606.7 637,1605.7 639,1604.8 640.9,1603.9 642.9,1603.1 645,1602.3 647,1601.5 649.1,1600.7 651.1,1600 653.2,1599.3 655.3,1598.6 658.4,1597.7 661.4,1596.8 664.5,1596 667.5,1595.2 670.6,1594.4 673.6,1593.7 676.7,1593.1 679.7,1592.4 682.7,1591.9 685.8,1591.3 688.8,1590.8 691.9,1590.3 694.9,1589.8 698,1589.4 701,1589 704.1,1588.6 707.1,1588.3 710.1,1588 713.2,1587.7 716.2,1587.4 719.3,1587.1 722.3,1586.9 725.4,1586.7 728.4,1586.5 731.4,1586.3 734.5,1586.1 737.5,1585.9 740.6,1585.8 743.6,1585.7 746.7,1585.5 749.7,1585.4 752.8,1585.3 755.8,1585.2 758.8,1585.2 761.9,1585.1 764.9,1585 768,1585 771,1584.9 774.1,1584.9 777.1,1584.8 780.2,1584.8 783.2,1584.8 786.2,1584.7 789.3,1584.7 792.3,1584.7 795.4,1584.7 798.4,1584.7 801.5,1584.6 804.5,1584.6 807.6,1584.6 810.6,1584.6 813.6,1584.6 816.7,1584.6 819.7,1584.6 822.8,1584.6 825.8,1584.6 828.9,1584.6 831.9,1584.6 834.9,1584.6 838,1584.6 841,1584.6 844.1,1584.6 847.1,1584.6 850.2,1584.6 853.2,1584.6 856.3,1584.6 859.3,1584.6" fill="none" stroke="#55607a" stroke-width="3.6" stroke-linejoin="round"/>
<path d="M289.1,2199.5 292.2,2199.4 295.4,2199.1 298.5,2198.7 301.7,2198.3 304.8,2197.7 308,2197.1 311.1,2196.4 314.3,2195.6 317.4,2194.8 320.6,2193.9 323.7,2193 326.8,2192 330,2190.9 333.1,2189.8 336.3,2188.6 339.4,2187.4 342.6,2186.2 345.7,2184.8 348.9,2183.4 352.1,2181.8 355.3,2180.2 358.5,2178.4 361.7,2176.4 365,2174.3 368.2,2172.1 371.4,2169.7 373,2168.4 374.6,2167.1 376.2,2165.8 377.9,2164.4 379.5,2163 381.1,2161.5 382.7,2160 384.3,2158.4 385.9,2156.8 387.5,2155.1 389.1,2153.4 390.7,2151.7 392.3,2149.8 393.9,2148 395.5,2146.1 397.1,2144.1 398.7,2142.1 400.3,2140 401.9,2137.8 403.5,2135.7 405.1,2133.4 406.7,2131.1 408.3,2128.7 409.8,2126.3 411.4,2123.9 413,2121.3 414.6,2118.7 416.1,2116.1 417.7,2113.4 419.3,2110.6 420.8,2107.8 422.4,2104.9 424,2101.9 425.5,2098.9 427.1,2095.9 428.6,2092.7 430.2,2089.6 431.7,2086.3 433.2,2083 434.8,2079.7 436.3,2076.2 437.8,2072.8 439.4,2069.2 440.9,2065.6 442.4,2062 443.9,2058.3 445.4,2054.5 446.9,2050.7 448.5,2046.8 450,2042.9 451.5,2039 453,2034.9 454.4,2030.9 455.9,2026.7 457.4,2022.6 458.9,2018.4 460.4,2014.1 461.9,2009.8 463.3,2005.4 464.8,2001 466.3,1996.6 467.7,1992.1 469.2,1987.6 470.6,1983.1 472.1,1978.5 473.5,1973.9 475,1969.2 476.4,1964.6 477.9,1959.8 479.3,1955.1 480.7,1950.4 482.2,1945.6 483.6,1940.8 485,1936 486.5,1931.1 487.9,1926.3 489.3,1921.4 490.7,1916.5 492.1,1911.7 493.5,1906.8 495,1901.9 496.4,1897 497.8,1892 499.2,1887.1 500.6,1882.2 502,1877.3 503.4,1872.4 504.8,1867.6 506.2,1862.7 507.6,1857.8 509,1853 510.3,1848.1 511.7,1843.3 513.1,1838.5 514.5,1833.7 515.9,1829 517.3,1824.3 518.7,1819.5 520.1,1814.9 521.5,1810.2 522.8,1805.6 524.2,1801 525.6,1796.5 527,1792 528.4,1787.5 529.8,1783.1 531.2,1778.7 532.6,1774.3 534,1770 535.4,1765.7 536.8,1761.5 538.2,1757.4 539.6,1753.2 541,1749.2 542.4,1745.1 543.8,1741.2 545.2,1737.3 546.6,1733.4 548,1729.6 549.4,1725.8 550.9,1722.1 552.3,1718.5 553.7,1714.9 555.1,1711.3 556.6,1707.9 558,1704.4 559.5,1701.1 560.9,1697.8 562.4,1694.5 563.8,1691.4 565.3,1688.2 566.8,1685.2 568.2,1682.2 569.7,1679.2 571.2,1676.3 572.7,1673.5 574.2,1670.7 575.7,1668 577.2,1665.4 578.8,1662.8 580.3,1660.2 581.8,1657.8 583.4,1655.4 584.9,1653 586.5,1650.7 588.1,1648.4 589.7,1646.3 591.3,1644.1 592.9,1642 594.5,1640 596.1,1638 597.7,1636.1 599.4,1634.3 601,1632.4 602.7,1630.7 604.4,1629 606.1,1627.3 607.8,1625.7 609.5,1624.1 611.2,1622.6 613,1621.1 614.7,1619.7 616.5,1618.3 618.3,1617 620.1,1615.7 621.9,1614.4 623.7,1613.2 625.6,1612 627.4,1610.9 629.3,1609.8 631.2,1608.7 633.1,1607.7 635.1,1606.7 637,1605.7 639,1604.8 640.9,1603.9 642.9,1603.1 645,1602.3 647,1601.5 649.1,1600.7 651.1,1600 653.2,1599.3 655.3,1598.6 658.4,1597.7 661.4,1596.8 664.5,1596 667.5,1595.2 670.6,1594.4 673.6,1593.7 676.7,1593.1 679.7,1592.4 682.7,1591.9 685.8,1591.3 688.8,1590.8 691.9,1590.3 694.9,1589.8 698,1589.4 701,1589 704.1,1588.6 707.1,1588.3 710.1,1588 713.2,1587.7 716.2,1587.4 719.3,1587.1 722.3,1586.9 725.4,1586.7 728.4,1586.5 731.4,1586.3 734.5,1586.1 737.5,1585.9 740.6,1585.8 743.6,1585.7 746.7,1585.5 749.7,1585.4 752.8,1585.3 755.8,1585.2 758.8,1585.2 761.9,1585.1 764.9,1585 768,1585 771,1584.9 774.1,1584.9 777.1,1584.8 780.2,1584.8 783.2,1584.8 786.2,1584.7 789.3,1584.7 792.3,1584.7 795.4,1584.7 798.4,1584.7 801.5,1584.6 804.5,1584.6 807.6,1584.6 810.6,1584.6 813.6,1584.6 816.7,1584.6 819.7,1584.6 822.8,1584.6 825.8,1584.6 828.9,1584.6 831.9,1584.6 834.9,1584.6 838,1584.6 841,1584.6 844.1,1584.6 847.1,1584.6 850.2,1584.6 853.2,1584.6 856.3,1584.6 859.3,1584.6" fill="none" stroke="#0d9a48" stroke-width="2.2" stroke-linejoin="round" stroke-linecap="round"/>
<path d="M110,1583.8 H212 M110,2199.5 H212" stroke="#5a8aa8" stroke-width="2.3" fill="none"/>
<path d="M212,1583.8 H935 M212,2199.5 H935" stroke="#8a60aa" stroke-width="2.3" fill="none"/>
<line x1="110" y1="1582.6" x2="110" y2="2200.7" stroke="#5a8aa8" stroke-width="2.3"/>
<line x1="935" y1="1582.6" x2="935" y2="2200.7" stroke="#8a60aa" stroke-width="2.5999999999999996"/>
<path d="M110,2199.5 h-9 M110,2137.9 h-5 M110,2076.4 h-9 M110,2014.8 h-5 M110,1953.2 h-9 M110,1891.7 h-5 M110,1830.1 h-9 M110,1768.5 h-5 M110,1706.9 h-9 M110,1645.4 h-5 M110,1583.8 h-9 M110,2199.5 v9 M316.3,2199.5 v9 M522.6,2199.5 v9 M728.9,2199.5 v9 M935.2,2199.5 v9 M213.2,2199.5 v5 M419.5,2199.5 v5 M625.8,2199.5 v5 M832.1,2199.5 v5" stroke="#3a3a3a" stroke-width="2.2" fill="none"/>
<text x="92.8" y="2208.1" font-size="27.5" text-anchor="end" fill="#111" textLength="12.3" lengthAdjust="spacingAndGlyphs">0</text>
<text x="92.8" y="2085" font-size="27.5" text-anchor="end" fill="#111" textLength="24.6" lengthAdjust="spacingAndGlyphs">20</text>
<text x="92.8" y="1961.8" font-size="27.5" text-anchor="end" fill="#111" textLength="24.6" lengthAdjust="spacingAndGlyphs">40</text>
<text x="92.8" y="1838.7" font-size="27.5" text-anchor="end" fill="#111" textLength="24.6" lengthAdjust="spacingAndGlyphs">60</text>
<text x="92.8" y="1715.5" font-size="27.5" text-anchor="end" fill="#111" textLength="24.6" lengthAdjust="spacingAndGlyphs">80</text>
<text x="92.8" y="1592.4" font-size="27.5" text-anchor="end" fill="#111" textLength="36.9" lengthAdjust="spacingAndGlyphs">100</text>
<text x="110" y="2239" font-size="24.5" text-anchor="middle" fill="#111">0</text>
<text x="283.9" y="2239" font-size="24.5" fill="#111">2×10</text>
<text x="334.9" y="2227" font-size="14.5" fill="#111">-6</text>
<text x="490.2" y="2239" font-size="24.5" fill="#111">4×10</text>
<text x="541.2" y="2227" font-size="14.5" fill="#111">-6</text>
<text x="696.5" y="2239" font-size="24.5" fill="#111">6×10</text>
<text x="747.5" y="2227" font-size="14.5" fill="#111">-6</text>
<text x="902.8" y="2239" font-size="24.5" fill="#111">8×10</text>
<text x="953.8" y="2227" font-size="14.5" fill="#111">-6</text>
<text x="531" y="2281.5" font-size="36" text-anchor="middle" fill="#111">CR Pb</text>
<g transform="translate(48,2078.8) rotate(-90) scale(1.0)" fill="#111">
<text x="0" y="0" font-size="28.7">Cumulative probability</text>
<text x="308" y="0" text-anchor="end" font-family="'Noto Serif CJK SC','Liberation Serif',serif" font-weight="normal" font-size="27">（</text>
<text x="306.8" y="0" font-size="31" textLength="42" lengthAdjust="spacingAndGlyphs">%</text>
<text x="345.5" y="0" font-family="'Noto Serif CJK SC','Liberation Serif',serif" font-weight="normal" font-size="27">）</text>
</g>
<text x="853.2" y="1658.8" font-size="55" fill="#0a0a0a">(e)</text>
<line x1="561.5" y1="1785.5" x2="632" y2="1785.5" stroke="#55607a" stroke-width="3.4"/>
<line x1="561.5" y1="1785.5" x2="632" y2="1785.5" stroke="#0d9a48" stroke-width="2"/>
<line x1="561.5" y1="1825.3" x2="632" y2="1825.3" stroke="#3a22e0" stroke-width="3"/>
<text x="643" y="1796.4" font-size="30.8" fill="#1c22d4">Adults</text>
<text x="642" y="1836" font-size="30.8" fill="#0a8f2e">Children</text>
<text x="564.8" y="1916.9" font-size="31" fill="#1c22d4">Mean=4.53×10</text>
<text x="762.8" y="1903.4" font-size="19.5" fill="#1c22d4" textLength="23" lengthAdjust="spacingAndGlyphs">−</text>
<text x="784" y="1904.9" font-size="19.5" fill="#1c22d4">7</text>
<text x="564.8" y="1960.4" font-size="31" fill="#0a8f2e">Mean=4.08×10</text>
<text x="762.8" y="1946.9" font-size="19.5" fill="#0a8f2e" textLength="23" lengthAdjust="spacingAndGlyphs">−</text>
<text x="784" y="1948.4" font-size="19.5" fill="#0a8f2e">6</text>
<text x="572.5" y="2044" font-size="31" fill="#0a8f2e">Children(100%&gt;1×10</text>
<text x="862.1" y="2030.5" font-size="19.5" fill="#0a8f2e" textLength="23" lengthAdjust="spacingAndGlyphs">−</text>
<text x="883.3" y="2032" font-size="19.5" fill="#0a8f2e">6</text>
<text x="893.7" y="2044" font-size="31" fill="#0a8f2e">)</text>
</g>
<g>
<rect x="1095.6" y="1583.8" width="825" height="615.7" fill="#a4e3fa"/>
<line x1="1245.8" y1="1598.3" x2="1245.8" y2="2199.5" stroke="#2448e8" stroke-width="3.6" stroke-dasharray="20.5 10.3"/>
<line x1="1459.8" y1="1598.3" x2="1459.8" y2="2199.5" stroke="#0c9a6c" stroke-width="3.6" stroke-dasharray="20.5 10.3"/>
<path d="M1160.2,2199.5 1161.8,2199.4 1163.5,2199.1 1165.1,2198.6 1166.7,2197.9 1168.3,2197.1 1170,2196.2 1171.6,2195.1 1173.2,2193.8 1174.8,2192.4 1176.5,2190.9 1178.1,2189.2 1179.7,2187.4 1181.3,2185.5 1182.4,2184.1 1183.5,2182.6 1184.6,2181 1185.6,2179.3 1186.7,2177.4 1187.7,2175.4 1188.8,2173.2 1189.3,2172.1 1189.8,2170.9 1190.4,2169.7 1190.9,2168.4 1191.4,2167.1 1191.9,2165.8 1192.4,2164.4 1193,2163 1193.5,2161.5 1194,2160 1194.5,2158.4 1195,2156.8 1195.5,2155.1 1196,2153.4 1196.6,2151.7 1197.1,2149.8 1197.6,2148 1198.1,2146.1 1198.6,2144.1 1199.1,2142.1 1199.6,2140 1200.1,2137.8 1200.6,2135.7 1201.2,2133.4 1201.7,2131.1 1202.2,2128.7 1202.7,2126.3 1203.2,2123.9 1203.7,2121.3 1204.2,2118.7 1204.7,2116.1 1205.2,2113.4 1205.7,2110.6 1206.2,2107.8 1206.7,2104.9 1207.2,2101.9 1207.7,2098.9 1208.2,2095.9 1208.7,2092.7 1209.2,2089.6 1209.7,2086.3 1210.3,2083 1210.8,2079.7 1211.3,2076.2 1211.8,2072.8 1212.3,2069.2 1212.8,2065.6 1213.3,2062 1213.8,2058.3 1214.3,2054.5 1214.8,2050.7 1215.3,2046.8 1215.8,2042.9 1216.3,2039 1216.8,2034.9 1217.3,2030.9 1217.8,2026.7 1218.3,2022.6 1218.8,2018.4 1219.3,2014.1 1219.8,2009.8 1220.3,2005.4 1220.8,2001 1221.3,1996.6 1221.8,1992.1 1222.3,1987.6 1222.9,1983.1 1223.4,1978.5 1223.9,1973.9 1224.4,1969.2 1224.9,1964.6 1225.4,1959.8 1225.9,1955.1 1226.4,1950.4 1226.9,1945.6 1227.4,1940.8 1227.9,1936 1228.5,1931.1 1229,1926.3 1229.5,1921.4 1230,1916.5 1230.5,1911.7 1231,1906.8 1231.5,1901.9 1232.1,1897 1232.6,1892 1233.1,1887.1 1233.6,1882.2 1234.1,1877.3 1234.7,1872.4 1235.2,1867.6 1235.7,1862.7 1236.2,1857.8 1236.7,1853 1237.3,1848.1 1237.8,1843.3 1238.3,1838.5 1238.8,1833.7 1239.4,1829 1239.9,1824.3 1240.4,1819.5 1241,1814.9 1241.5,1810.2 1242,1805.6 1242.6,1801 1243.1,1796.5 1243.6,1792 1244.2,1787.5 1244.7,1783.1 1245.3,1778.7 1245.8,1774.3 1246.3,1770 1246.9,1765.7 1247.4,1761.5 1248,1757.4 1248.5,1753.2 1249.1,1749.2 1249.6,1745.1 1250.2,1741.2 1250.7,1737.3 1251.3,1733.4 1251.8,1729.6 1252.4,1725.8 1253,1722.1 1253.5,1718.5 1254.1,1714.9 1254.6,1711.3 1255.2,1707.9 1255.8,1704.4 1256.3,1701.1 1256.9,1697.8 1257.5,1694.5 1258.1,1691.4 1258.6,1688.2 1259.2,1685.2 1259.8,1682.2 1260.4,1679.2 1260.9,1676.3 1261.5,1673.5 1262.1,1670.7 1262.7,1668 1263.3,1665.4 1263.9,1662.8 1264.5,1660.2 1265.1,1657.8 1265.7,1655.4 1266.3,1653 1266.9,1650.7 1267.5,1648.4 1268.1,1646.3 1268.7,1644.1 1269.3,1642 1269.9,1640 1270.5,1638 1271.1,1636.1 1271.7,1634.3 1272.3,1632.4 1273,1630.7 1273.6,1629 1274.2,1627.3 1274.8,1625.7 1275.5,1624.1 1276.1,1622.6 1276.7,1621.1 1277.4,1619.7 1278,1618.3 1278.6,1617 1279.3,1615.7 1279.9,1614.4 1280.6,1613.2 1281.2,1612 1281.9,1610.9 1282.5,1609.8 1283.2,1608.7 1283.8,1607.7 1285.2,1605.7 1286.5,1603.9 1287.9,1602.3 1289.2,1600.7 1290.6,1599.3 1292.8,1597.2 1294.3,1595.9 1295.9,1594.7 1297.4,1593.6 1299,1592.6 1300.5,1591.8 1302,1591 1303.6,1590.2 1305.1,1589.6 1306.7,1589 1308.2,1588.5 1309.7,1588 1311.3,1587.6 1312.8,1587.2 1314.4,1586.9 1315.9,1586.6 1317.4,1586.3 1319,1586.1 1320.5,1585.9 1322.1,1585.7 1323.6,1585.5 1325.1,1585.4 1326.7,1585.3 1328.2,1585.2 1329.8,1585.1 1331.3,1585 1332.8,1584.9 1334.4,1584.9 1335.9,1584.8 1337.5,1584.8 1339,1584.8 1340.5,1584.7 1342.1,1584.7 1343.6,1584.7 1345.2,1584.7 1346.7,1584.7 1348.2,1584.6 1349.8,1584.6 1351.3,1584.6 1352.8,1584.6 1354.4,1584.6 1355.9,1584.6 1357.5,1584.6 1359,1584.6 1360.5,1584.6 1362.1,1584.6 1363.6,1584.6 1365.2,1584.6 1366.7,1584.6 1368.2,1584.6 1369.8,1584.6 1371.3,1584.6 1372.9,1584.6 1374.4,1584.6 1375.9,1584.6 1377.5,1584.6 1379,1584.6 1380.6,1584.6 1382.1,1584.6 1383.6,1584.6 1385.2,1584.6 1386.7,1584.6 1388.3,1584.6 1389.8,1584.6" fill="none" stroke="#1a3fe8" stroke-width="2.8" stroke-linejoin="round" stroke-linecap="round"/>
<path d="M1252.4,2199.5 1255.6,2199.4 1258.8,2199.2 1261.9,2198.9 1265.1,2198.4 1268.3,2197.8 1271.5,2197.1 1274.7,2196.3 1277.8,2195.4 1281,2194.3 1284.2,2193.1 1287.4,2191.8 1290.5,2190.4 1293.7,2188.9 1296.9,2187.3 1300.1,2185.5 1302.4,2184.1 1304.8,2182.6 1307.2,2181 1309.6,2179.3 1312.1,2177.4 1314.6,2175.4 1317.1,2173.2 1319.6,2170.9 1322.1,2168.4 1324.7,2165.8 1327.3,2163 1329.8,2160 1331.1,2158.4 1332.4,2156.8 1333.7,2155.1 1335,2153.4 1336.3,2151.7 1337.6,2149.8 1338.9,2148 1340.2,2146.1 1341.5,2144.1 1342.8,2142.1 1344.1,2140 1345.5,2137.8 1346.8,2135.7 1348.1,2133.4 1349.4,2131.1 1350.7,2128.7 1352,2126.3 1353.3,2123.9 1354.6,2121.3 1355.9,2118.7 1357.2,2116.1 1358.6,2113.4 1359.9,2110.6 1361.2,2107.8 1362.5,2104.9 1363.8,2101.9 1365.1,2098.9 1366.4,2095.9 1367.7,2092.7 1369,2089.6 1370.3,2086.3 1371.6,2083 1372.9,2079.7 1374.2,2076.2 1375.5,2072.8 1376.8,2069.2 1378.1,2065.6 1379.3,2062 1380.6,2058.3 1381.9,2054.5 1383.2,2050.7 1384.5,2046.8 1385.7,2042.9 1387,2039 1388.3,2034.9 1389.6,2030.9 1390.8,2026.7 1392.1,2022.6 1393.3,2018.4 1394.6,2014.1 1395.9,2009.8 1397.1,2005.4 1398.4,2001 1399.6,1996.6 1400.9,1992.1 1402.1,1987.6 1403.3,1983.1 1404.6,1978.5 1405.8,1973.9 1407.1,1969.2 1408.3,1964.6 1409.5,1959.8 1410.7,1955.1 1412,1950.4 1413.2,1945.6 1414.4,1940.8 1415.6,1936 1416.8,1931.1 1418,1926.3 1419.2,1921.4 1420.4,1916.5 1421.7,1911.7 1422.9,1906.8 1424.1,1901.9 1425.3,1897 1426.5,1892 1427.6,1887.1 1428.8,1882.2 1430,1877.3 1431.2,1872.4 1432.4,1867.6 1433.6,1862.7 1434.8,1857.8 1436,1853 1437.1,1848.1 1438.3,1843.3 1439.5,1838.5 1440.7,1833.7 1441.9,1829 1443,1824.3 1444.2,1819.5 1445.4,1814.9 1446.6,1810.2 1447.7,1805.6 1448.9,1801 1450.1,1796.5 1451.3,1792 1452.5,1787.5 1453.6,1783.1 1454.8,1778.7 1456,1774.3 1457.2,1770 1458.4,1765.7 1459.5,1761.5 1460.7,1757.4 1461.9,1753.2 1463.1,1749.2 1464.3,1745.1 1465.5,1741.2 1466.7,1737.3 1467.9,1733.4 1469.1,1729.6 1470.3,1725.8 1471.5,1722.1 1472.7,1718.5 1473.9,1714.9 1475.1,1711.3 1476.3,1707.9 1477.6,1704.4 1478.8,1701.1 1480,1697.8 1481.3,1694.5 1482.5,1691.4 1483.8,1688.2 1485,1685.2 1486.3,1682.2 1487.5,1679.2 1488.8,1676.3 1490.1,1673.5 1491.4,1670.7 1492.7,1668 1494,1665.4 1495.3,1662.8 1496.6,1660.2 1497.9,1657.8 1499.2,1655.4 1500.6,1653 1501.9,1650.7 1503.3,1648.4 1504.6,1646.3 1506,1644.1 1507.4,1642 1508.8,1640 1510.2,1638 1511.6,1636.1 1513.1,1634.3 1514.5,1632.4 1515.9,1630.7 1517.4,1629 1518.9,1627.3 1520.4,1625.7 1521.9,1624.1 1523.4,1622.6 1524.9,1621.1 1526.5,1619.7 1528,1618.3 1529.6,1617 1531.2,1615.7 1532.8,1614.4 1534.4,1613.2 1536,1612 1537.7,1610.9 1541.1,1608.7 1544.5,1606.7 1548,1604.8 1551.6,1603.1 1555.2,1601.5 1557.1,1600.7 1558.9,1600 1560.8,1599.3 1562.8,1598.6 1565.8,1597.6 1568.8,1596.6 1571.9,1595.7 1574.9,1594.9 1577.9,1594.1 1580.9,1593.4 1584,1592.7 1587,1592 1590,1591.4 1593,1590.9 1596.1,1590.4 1599.1,1589.9 1602.1,1589.4 1605.1,1589 1608.2,1588.6 1611.2,1588.2 1614.2,1587.9 1617.2,1587.6 1620.3,1587.3 1623.3,1587 1626.3,1586.8 1629.3,1586.6 1632.4,1586.4 1635.4,1586.2 1638.4,1586 1641.5,1585.9 1644.5,1585.7 1647.5,1585.6 1650.5,1585.5 1653.6,1585.4 1656.6,1585.3 1659.6,1585.2 1662.6,1585.1 1665.7,1585 1668.7,1585 1671.7,1584.9 1674.7,1584.9 1677.8,1584.8 1680.8,1584.8 1683.8,1584.8 1686.8,1584.7 1689.9,1584.7 1692.9,1584.7 1695.9,1584.7 1698.9,1584.7 1702,1584.7 1705,1584.6 1708,1584.6 1711.1,1584.6 1714.1,1584.6 1717.1,1584.6 1720.1,1584.6 1723.2,1584.6 1726.2,1584.6 1729.2,1584.6 1732.2,1584.6 1735.3,1584.6 1738.3,1584.6 1741.3,1584.6 1744.3,1584.6 1747.4,1584.6 1750.4,1584.6 1753.4,1584.6 1756.4,1584.6 1759.5,1584.6 1762.5,1584.6 1765.5,1584.6 1768.5,1584.6 1771.6,1584.6 1774.6,1584.6" fill="none" stroke="#0a9a4a" stroke-width="3.2" stroke-linejoin="round" stroke-linecap="round"/>
<path d="M1095.6,1583.8 H1920.6 M1095.6,2199.5 H1920.6" stroke="#5f8aa6" stroke-width="2.3" fill="none"/>
<line x1="1095.6" y1="1582.6" x2="1095.6" y2="2200.7" stroke="#5f8aa6" stroke-width="2.3"/>
<line x1="1920.6" y1="1582.6" x2="1920.6" y2="2200.7" stroke="#5f8aa6" stroke-width="2.5999999999999996"/>
<path d="M1095.6,2199.5 h-9 M1095.6,2137.9 h-5 M1095.6,2076.4 h-9 M1095.6,2014.8 h-5 M1095.6,1953.2 h-9 M1095.6,1891.7 h-5 M1095.6,1830.1 h-9 M1095.6,1768.5 h-5 M1095.6,1706.9 h-9 M1095.6,1645.4 h-5 M1095.6,1583.8 h-9 M1095.6,2199.5 v9 M1331.2,2199.5 v9 M1566.8,2199.5 v9 M1802.4,2199.5 v9 M1213.4,2199.5 v5 M1449,2199.5 v5 M1684.6,2199.5 v5 M1920.2,2199.5 v5" stroke="#3a3a3a" stroke-width="2.2" fill="none"/>
<text x="1078.8" y="2208.1" font-size="27.5" text-anchor="end" fill="#111" textLength="12.3" lengthAdjust="spacingAndGlyphs">0</text>
<text x="1078.8" y="2085" font-size="27.5" text-anchor="end" fill="#111" textLength="24.6" lengthAdjust="spacingAndGlyphs">20</text>
<text x="1078.8" y="1961.8" font-size="27.5" text-anchor="end" fill="#111" textLength="24.6" lengthAdjust="spacingAndGlyphs">40</text>
<text x="1078.8" y="1838.7" font-size="27.5" text-anchor="end" fill="#111" textLength="24.6" lengthAdjust="spacingAndGlyphs">60</text>
<text x="1078.8" y="1715.5" font-size="27.5" text-anchor="end" fill="#111" textLength="24.6" lengthAdjust="spacingAndGlyphs">80</text>
<text x="1078.8" y="1592.4" font-size="27.5" text-anchor="end" fill="#111" textLength="36.9" lengthAdjust="spacingAndGlyphs">100</text>
<text x="1095.6" y="2239" font-size="24.5" text-anchor="middle" fill="#111">0</text>
<text x="1298.8" y="2239" font-size="24.5" fill="#111">2×10</text>
<text x="1349.8" y="2227" font-size="14.5" fill="#111">-8</text>
<text x="1534.4" y="2239" font-size="24.5" fill="#111">4×10</text>
<text x="1585.4" y="2227" font-size="14.5" fill="#111">-8</text>
<text x="1770" y="2239" font-size="24.5" fill="#111">6×10</text>
<text x="1821" y="2227" font-size="14.5" fill="#111">-8</text>
<text x="1519.4" y="2281.3" font-size="36" text-anchor="middle" fill="#111">CR Cd</text>
<g transform="translate(1033.6,2078.8) rotate(-90) scale(1.0)" fill="#111">
<text x="0" y="0" font-size="28.7">Cumulative probability</text>
<text x="308" y="0" text-anchor="end" font-family="'Noto Serif CJK SC','Liberation Serif',serif" font-weight="normal" font-size="27">（</text>
<text x="306.8" y="0" font-size="31" textLength="42" lengthAdjust="spacingAndGlyphs">%</text>
<text x="345.5" y="0" font-family="'Noto Serif CJK SC','Liberation Serif',serif" font-weight="normal" font-size="27">）</text>
</g>
<text x="1839.9" y="1658.8" font-size="55" fill="#0a0a0a">(f)</text>
<line x1="1549.7" y1="1786.4" x2="1621" y2="1786.4" stroke="#1a3fe8" stroke-width="3"/>
<line x1="1549.7" y1="1825.9" x2="1621" y2="1825.9" stroke="#0a9a4a" stroke-width="3.2"/>
<text x="1622" y="1796.4" font-size="30.8" fill="#1c22d4">Adults</text>
<text x="1620.2" y="1836" font-size="30.8" fill="#0a8f2e">Children</text>
<text x="1551.2" y="1916.9" font-size="31" fill="#1c22d4">Mean=1.28×10</text>
<text x="1749.2" y="1903.4" font-size="19.5" fill="#1c22d4" textLength="23" lengthAdjust="spacingAndGlyphs">−</text>
<text x="1770.4" y="1904.9" font-size="19.5" fill="#1c22d4">8</text>
<text x="1551.2" y="1960.4" font-size="31" fill="#0a8f2e">Mean=3.09×10</text>
<text x="1749.2" y="1946.9" font-size="19.5" fill="#0a8f2e" textLength="23" lengthAdjust="spacingAndGlyphs">−</text>
<text x="1770.4" y="1948.4" font-size="19.5" fill="#0a8f2e">8</text>
</g>
</svg>
</body>
</html>
